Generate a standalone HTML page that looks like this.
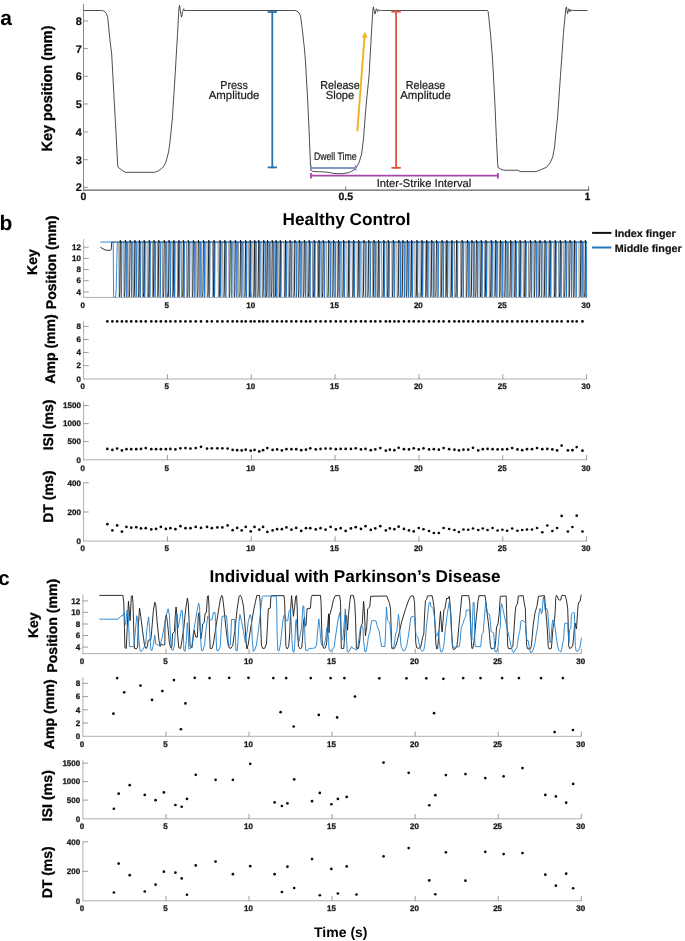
<!DOCTYPE html>
<html><head><meta charset="utf-8"><title>Figure</title>
<style>
html,body{margin:0;padding:0;background:#fff;}
body{width:685px;height:941px;overflow:hidden;font-family:"Liberation Sans",sans-serif;}
svg{display:block;font-family:"Liberation Sans",sans-serif;will-change:transform;text-rendering:geometricPrecision;}
</style></head><body>
<svg width="685" height="941" viewBox="0 0 685 941" font-family="Liberation Sans, sans-serif">
<rect width="685" height="941" fill="#fff"/>
<text x="0.30" y="25.00" font-size="21" text-anchor="start" font-weight="bold" fill="#000" >a</text>
<text transform="translate(52.00,88.50) rotate(-90)" font-size="14.8" text-anchor="middle" font-weight="bold" fill="#000" stroke="#000" stroke-width="0.3" textLength="126" lengthAdjust="spacingAndGlyphs">Key position (mm)</text>
<line x1="83.50" y1="4.00" x2="83.50" y2="190.40" stroke="#7d7d7d" stroke-width="0.9" />
<line x1="83.10" y1="190.00" x2="589.20" y2="190.00" stroke="#606060" stroke-width="1.25" />
<line x1="83.50" y1="21.00" x2="87.90" y2="21.00" stroke="#7a7a7a" stroke-width="0.8" />
<text x="81.80" y="24.95" font-size="11" text-anchor="end" font-weight="bold" fill="#111" stroke="#111" stroke-width="0.2">8</text>
<line x1="83.50" y1="48.60" x2="87.90" y2="48.60" stroke="#7a7a7a" stroke-width="0.8" />
<text x="81.80" y="52.55" font-size="11" text-anchor="end" font-weight="bold" fill="#111" stroke="#111" stroke-width="0.2">7</text>
<line x1="83.50" y1="76.30" x2="87.90" y2="76.30" stroke="#7a7a7a" stroke-width="0.8" />
<text x="81.80" y="80.25" font-size="11" text-anchor="end" font-weight="bold" fill="#111" stroke="#111" stroke-width="0.2">6</text>
<line x1="83.50" y1="104.00" x2="87.90" y2="104.00" stroke="#7a7a7a" stroke-width="0.8" />
<text x="81.80" y="107.95" font-size="11" text-anchor="end" font-weight="bold" fill="#111" stroke="#111" stroke-width="0.2">5</text>
<line x1="83.50" y1="132.00" x2="87.90" y2="132.00" stroke="#7a7a7a" stroke-width="0.8" />
<text x="81.80" y="135.95" font-size="11" text-anchor="end" font-weight="bold" fill="#111" stroke="#111" stroke-width="0.2">4</text>
<line x1="83.50" y1="159.70" x2="87.90" y2="159.70" stroke="#7a7a7a" stroke-width="0.8" />
<text x="81.80" y="163.65" font-size="11" text-anchor="end" font-weight="bold" fill="#111" stroke="#111" stroke-width="0.2">3</text>
<line x1="83.50" y1="187.40" x2="87.90" y2="187.40" stroke="#7a7a7a" stroke-width="0.8" />
<text x="81.80" y="191.35" font-size="11" text-anchor="end" font-weight="bold" fill="#111" stroke="#111" stroke-width="0.2">2</text>
<text x="83.50" y="200.20" font-size="10.5" text-anchor="middle" font-weight="bold" fill="#111" stroke="#111" stroke-width="0.25">0</text>
<text x="345.70" y="200.20" font-size="10.5" text-anchor="middle" font-weight="bold" fill="#111" stroke="#111" stroke-width="0.25">0.5</text>
<text x="587.50" y="200.20" font-size="10.5" text-anchor="middle" font-weight="bold" fill="#111" stroke="#111" stroke-width="0.25">1</text>
<line x1="345.70" y1="190.00" x2="345.70" y2="186.20" stroke="#555" stroke-width="0.8" />
<line x1="588.60" y1="190.00" x2="588.60" y2="186.20" stroke="#555" stroke-width="0.8" />
<polyline points="83.60,10.50 101.50,10.50 103.50,10.90 105.00,11.80 106.40,13.60 107.70,17.50 108.60,26.30 109.90,39.40 111.70,54.30 113.00,78.00 114.20,100.40 116.00,132.60 117.30,158.00 117.80,166.30 118.40,167.60 120.50,169.00 123.00,171.00 125.50,172.30 154.40,172.30 157.50,171.30 160.70,169.30 162.50,167.80 164.50,165.00 165.90,162.00 167.20,157.50 168.60,151.70 169.80,143.50 170.90,133.00 172.40,118.00 175.10,75.30 177.60,32.60 178.90,9.00 179.50,5.30 180.30,10.50 181.50,17.10 182.70,11.50 183.70,8.80 184.60,10.70 186.00,10.50 295.30,10.50 298.00,11.80 299.70,14.00 300.80,17.50 301.70,24.50 302.90,35.00 304.10,45.50 305.40,60.00 306.50,80.00 307.70,100.40 309.40,137.70 310.50,165.00 310.90,170.30 312.50,171.20 315.10,171.60 325.10,172.00 329.00,172.40 332.70,173.30 337.00,173.70 342.70,173.60 347.00,173.00 350.30,172.00 355.30,169.00 359.00,162.80 361.60,154.00 363.60,137.70 365.30,115.00 366.60,100.00 369.10,75.30 371.60,30.10 372.90,9.50 373.40,6.80 374.10,10.50 375.00,14.00 376.30,8.80 377.60,11.40 378.50,9.60 379.40,10.80 380.40,10.40 381.60,10.50 487.50,10.50 488.10,11.40 488.80,17.50 490.60,35.00 492.60,60.00 494.20,90.00 495.20,110.00 496.30,136.30 497.60,162.50 498.00,167.40 500.20,168.80 503.70,170.20 518.60,170.30 519.50,171.60 536.10,171.60 541.40,169.50 546.70,167.20 550.20,162.80 552.80,156.70 554.60,147.00 555.70,135.00 557.50,118.00 560.50,75.30 563.50,32.60 565.70,9.50 566.40,6.90 567.00,10.50 567.60,13.60 568.70,8.80 569.80,11.80 570.80,9.50 571.70,10.90 572.60,10.30 575.00,10.50 587.60,10.50" fill="none" stroke="#262626" stroke-width="0.82" stroke-linejoin="miter" stroke-linecap="butt" />
<line x1="272.30" y1="11.20" x2="272.30" y2="168.20" stroke="#2571b0" stroke-width="1.8" />
<line x1="267.60" y1="12.00" x2="277.00" y2="12.00" stroke="#2571b0" stroke-width="1.8" />
<line x1="267.60" y1="167.40" x2="277.00" y2="167.40" stroke="#2571b0" stroke-width="1.8" />
<line x1="396.10" y1="10.70" x2="396.10" y2="168.70" stroke="#dc5540" stroke-width="1.8" />
<line x1="391.40" y1="11.60" x2="400.80" y2="11.60" stroke="#dc5540" stroke-width="1.9" />
<line x1="391.40" y1="167.80" x2="400.80" y2="167.80" stroke="#dc5540" stroke-width="1.8" />
<line x1="357.30" y1="131.40" x2="364.60" y2="36.00" stroke="#f4b11f" stroke-width="1.9" />
<polygon points="365.0,31.6 362.0,37.4 367.4,37.9" fill="#f4b11f"/>
<line x1="310.80" y1="168.00" x2="355.80" y2="168.00" stroke="#8398c1" stroke-width="1.9" />
<line x1="311.10" y1="165.20" x2="311.10" y2="170.60" stroke="#8398c1" stroke-width="1.7" />
<line x1="355.50" y1="165.20" x2="355.50" y2="170.60" stroke="#8398c1" stroke-width="1.7" />
<line x1="310.60" y1="175.50" x2="498.20" y2="175.50" stroke="#a846a9" stroke-width="1.75" />
<line x1="311.00" y1="172.90" x2="311.00" y2="178.40" stroke="#a846a9" stroke-width="1.8" />
<line x1="497.90" y1="172.90" x2="497.90" y2="178.40" stroke="#a846a9" stroke-width="1.8" />
<text x="234.10" y="89.40" font-size="11.5" text-anchor="middle" font-weight="normal" fill="#1c1c1c" stroke="#1c1c1c" stroke-width="0.22" textLength="27.5" lengthAdjust="spacingAndGlyphs">Press</text>
<text x="234.10" y="98.90" font-size="11.5" text-anchor="middle" font-weight="normal" fill="#1c1c1c" stroke="#1c1c1c" stroke-width="0.22" textLength="50.7" lengthAdjust="spacingAndGlyphs">Amplitude</text>
<text x="340.00" y="89.40" font-size="11.5" text-anchor="middle" font-weight="normal" fill="#1c1c1c" stroke="#1c1c1c" stroke-width="0.22" textLength="39.5" lengthAdjust="spacingAndGlyphs">Release</text>
<text x="340.00" y="99.20" font-size="11.5" text-anchor="middle" font-weight="normal" fill="#1c1c1c" stroke="#1c1c1c" stroke-width="0.22" textLength="28.5" lengthAdjust="spacingAndGlyphs">Slope</text>
<text x="425.60" y="88.90" font-size="11.5" text-anchor="middle" font-weight="normal" fill="#1c1c1c" stroke="#1c1c1c" stroke-width="0.22" textLength="39.5" lengthAdjust="spacingAndGlyphs">Release</text>
<text x="425.60" y="98.50" font-size="11.5" text-anchor="middle" font-weight="normal" fill="#1c1c1c" stroke="#1c1c1c" stroke-width="0.22" textLength="50.7" lengthAdjust="spacingAndGlyphs">Amplitude</text>
<text x="335.20" y="159.80" font-size="10.8" text-anchor="middle" font-weight="normal" fill="#1c1c1c" stroke="#1c1c1c" stroke-width="0.22" textLength="42.6" lengthAdjust="spacingAndGlyphs">Dwell Time</text>
<text x="424.00" y="186.60" font-size="11.3" text-anchor="middle" font-weight="normal" fill="#1c1c1c" stroke="#1c1c1c" stroke-width="0.22" textLength="94.7" lengthAdjust="spacingAndGlyphs">Inter-Strike Interval</text>
<text x="-0.40" y="230.30" font-size="21" text-anchor="start" font-weight="bold" fill="#000" >b</text>
<text x="346.60" y="225.20" font-size="17" text-anchor="middle" font-weight="bold" fill="#000" textLength="128" lengthAdjust="spacingAndGlyphs">Healthy Control</text>
<text transform="translate(37.20,262.10) rotate(-90)" font-size="14" text-anchor="middle" font-weight="bold" fill="#000" stroke="#000" stroke-width="0.3" >Key</text>
<text transform="translate(56.00,262.40) rotate(-90)" font-size="14" text-anchor="middle" font-weight="bold" fill="#000" stroke="#000" stroke-width="0.3" textLength="93.5" lengthAdjust="spacingAndGlyphs">Position (mm)</text>
<line x1="83.60" y1="238.90" x2="83.60" y2="297.80" stroke="#a6a6a6" stroke-width="0.9" />
<line x1="83.20" y1="297.40" x2="587.00" y2="297.40" stroke="#a6a6a6" stroke-width="0.9" />
<line x1="83.60" y1="247.20" x2="88.70" y2="247.20" stroke="#5a5a5a" stroke-width="0.6" />
<text x="80.90" y="249.95" font-size="8" text-anchor="end" font-weight="bold" fill="#1a1a1a" stroke="#1a1a1a" stroke-width="0.3">12</text>
<line x1="83.60" y1="258.30" x2="88.70" y2="258.30" stroke="#5a5a5a" stroke-width="0.6" />
<text x="80.90" y="261.05" font-size="8" text-anchor="end" font-weight="bold" fill="#1a1a1a" stroke="#1a1a1a" stroke-width="0.3">10</text>
<line x1="83.60" y1="269.50" x2="88.70" y2="269.50" stroke="#5a5a5a" stroke-width="0.6" />
<text x="80.90" y="272.25" font-size="8" text-anchor="end" font-weight="bold" fill="#1a1a1a" stroke="#1a1a1a" stroke-width="0.3">8</text>
<line x1="83.60" y1="280.70" x2="88.70" y2="280.70" stroke="#5a5a5a" stroke-width="0.6" />
<text x="80.90" y="283.45" font-size="8" text-anchor="end" font-weight="bold" fill="#1a1a1a" stroke="#1a1a1a" stroke-width="0.3">6</text>
<line x1="83.60" y1="291.90" x2="88.70" y2="291.90" stroke="#5a5a5a" stroke-width="0.6" />
<text x="80.90" y="294.65" font-size="8" text-anchor="end" font-weight="bold" fill="#1a1a1a" stroke="#1a1a1a" stroke-width="0.3">4</text>
<text x="82.70" y="308.10" font-size="8" text-anchor="middle" font-weight="bold" fill="#1a1a1a" stroke="#1a1a1a" stroke-width="0.3">0</text>
<line x1="167.43" y1="297.40" x2="167.43" y2="292.60" stroke="#5a5a5a" stroke-width="0.6" />
<text x="166.83" y="308.10" font-size="8" text-anchor="middle" font-weight="bold" fill="#1a1a1a" stroke="#1a1a1a" stroke-width="0.3">5</text>
<line x1="251.27" y1="297.40" x2="251.27" y2="292.60" stroke="#5a5a5a" stroke-width="0.6" />
<text x="250.67" y="308.10" font-size="8" text-anchor="middle" font-weight="bold" fill="#1a1a1a" stroke="#1a1a1a" stroke-width="0.3">10</text>
<line x1="335.10" y1="297.40" x2="335.10" y2="292.60" stroke="#5a5a5a" stroke-width="0.6" />
<text x="334.50" y="308.10" font-size="8" text-anchor="middle" font-weight="bold" fill="#1a1a1a" stroke="#1a1a1a" stroke-width="0.3">15</text>
<line x1="418.93" y1="297.40" x2="418.93" y2="292.60" stroke="#5a5a5a" stroke-width="0.6" />
<text x="418.33" y="308.10" font-size="8" text-anchor="middle" font-weight="bold" fill="#1a1a1a" stroke="#1a1a1a" stroke-width="0.3">20</text>
<line x1="502.77" y1="297.40" x2="502.77" y2="292.60" stroke="#5a5a5a" stroke-width="0.6" />
<text x="502.17" y="308.10" font-size="8" text-anchor="middle" font-weight="bold" fill="#1a1a1a" stroke="#1a1a1a" stroke-width="0.3">25</text>
<line x1="586.60" y1="297.40" x2="586.60" y2="292.60" stroke="#5a5a5a" stroke-width="0.6" />
<text x="586.00" y="308.10" font-size="8" text-anchor="middle" font-weight="bold" fill="#1a1a1a" stroke="#1a1a1a" stroke-width="0.3">30</text>
<clipPath id="cb"><rect x="83" y="236" width="503.9" height="61.4"/></clipPath>
<g clip-path="url(#cb)">
<polyline points="100.40,247.20 103.00,248.80 105.50,250.00 107.00,250.30 110.60,250.30 111.30,249.00 111.70,242.06 116.30,242.06" fill="none" stroke="#151515" stroke-width="0.85" stroke-linejoin="round" stroke-linecap="butt" />
<polyline points="100.40,242.06 113.20,242.06 113.60,294.82 113.70,297.42 115.70,297.42 116.20,288.82 117.30,242.06 586.60,242.06" fill="none" stroke="#1b72c4" stroke-width="0.85" stroke-linejoin="round" stroke-linecap="butt" />
<path d="M116.3,242.06 L586.6,242.06" stroke="#151515" stroke-width="0.5" fill="none" opacity="0.6"/>
<path d="M118.84,242.06 L119.14,296.82 L119.54,296.82 M123.72,242.06 L124.02,296.82 L124.42,296.82 M128.01,242.06 L128.31,296.82 L128.71,296.82 M133.05,242.06 L133.35,296.82 L133.75,296.82 M137.98,242.06 L138.28,296.82 L138.68,296.82 M142.38,242.06 L142.68,296.82 L143.08,296.82 M147.08,242.06 L147.38,296.82 L147.78,296.82 M152.31,242.06 L152.61,296.82 L153.01,296.82 M157.28,242.06 L157.58,296.82 L157.98,296.82 M162.30,242.06 L162.60,296.82 L163.00,296.82 M167.00,242.06 L167.30,296.82 L167.70,296.82 M172.30,242.06 L172.60,296.82 L173.00,296.82 M177.25,242.06 L177.55,296.82 L177.95,296.82 M181.26,242.06 L181.56,296.82 L181.96,296.82 M186.48,242.06 L186.78,296.82 L187.18,296.82 M191.96,242.06 L192.26,296.82 L192.66,296.82 M196.67,242.06 L196.97,296.82 L197.37,296.82 M201.31,242.06 L201.61,296.82 L202.01,296.82 M207.00,242.06 L207.30,296.82 L207.70,296.82 M212.54,242.06 L212.84,296.82 L213.24,296.82 M218.08,242.06 L218.38,296.82 L218.78,296.82 M222.71,242.06 L223.01,296.82 L223.41,296.82 M228.76,242.06 L229.06,296.82 L229.46,296.82 M233.79,242.06 L234.09,296.82 L234.49,296.82 M238.54,242.06 L238.84,296.82 L239.24,296.82 M243.68,242.06 L243.98,296.82 L244.38,296.82 M248.69,242.06 L248.99,296.82 L249.39,296.82 M252.96,242.06 L253.26,296.82 L253.66,296.82 M256.55,242.06 L256.85,296.82 L257.25,296.82 M261.94,242.06 L262.24,296.82 L262.64,296.82 M266.06,242.06 L266.36,296.82 L266.76,296.82 M270.38,242.06 L270.68,296.82 L271.08,296.82 M273.93,242.06 L274.23,296.82 L274.63,296.82 M278.70,242.06 L279.00,296.82 L279.40,296.82 M284.06,242.06 L284.36,296.82 L284.76,296.82 M288.06,242.06 L288.36,296.82 L288.76,296.82 M292.88,242.06 L293.18,296.82 L293.58,296.82 M297.91,242.06 L298.21,296.82 L298.61,296.82 M302.75,242.06 L303.05,296.82 L303.45,296.82 M307.06,242.06 L307.36,296.82 L307.76,296.82 M312.38,242.06 L312.68,296.82 L313.08,296.82 M317.54,242.06 L317.84,296.82 L318.24,296.82 M321.41,242.06 L321.71,296.82 L322.11,296.82 M326.64,242.06 L326.94,296.82 L327.34,296.82 M331.89,242.06 L332.19,296.82 L332.59,296.82 M337.08,242.06 L337.38,296.82 L337.78,296.82 M341.58,242.06 L341.88,296.82 L342.28,296.82 M346.82,242.06 L347.12,296.82 L347.52,296.82 M352.12,242.06 L352.42,296.82 L352.82,296.82 M357.04,242.06 L357.34,296.82 L357.74,296.82 M361.81,242.06 L362.11,296.82 L362.51,296.82 M366.81,242.06 L367.11,296.82 L367.51,296.82 M372.52,242.06 L372.82,296.82 L373.22,296.82 M376.70,242.06 L377.00,296.82 L377.40,296.82 M381.62,242.06 L381.92,296.82 L382.32,296.82 M386.58,242.06 L386.88,296.82 L387.28,296.82 M391.84,242.06 L392.14,296.82 L392.54,296.82 M396.87,242.06 L397.17,296.82 L397.57,296.82 M400.77,242.06 L401.07,296.82 L401.47,296.82 M405.82,242.06 L406.12,296.82 L406.52,296.82 M410.06,242.06 L410.36,296.82 L410.76,296.82 M414.82,242.06 L415.12,296.82 L415.52,296.82 M420.00,242.06 L420.30,296.82 L420.70,296.82 M425.24,242.06 L425.54,296.82 L425.94,296.82 M430.00,242.06 L430.30,296.82 L430.70,296.82 M434.37,242.06 L434.67,296.82 L435.07,296.82 M440.28,242.06 L440.58,296.82 L440.98,296.82 M445.35,242.06 L445.65,296.82 L446.05,296.82 M449.91,242.06 L450.21,296.82 L450.61,296.82 M454.50,242.06 L454.80,296.82 L455.20,296.82 M460.53,242.06 L460.83,296.82 L461.23,296.82 M465.86,242.06 L466.16,296.82 L466.56,296.82 M469.85,242.06 L470.15,296.82 L470.55,296.82 M474.45,242.06 L474.75,296.82 L475.15,296.82 M479.73,242.06 L480.03,296.82 L480.43,296.82 M484.29,242.06 L484.59,296.82 L484.99,296.82 M489.11,242.06 L489.41,296.82 L489.81,296.82 M493.96,242.06 L494.26,296.82 L494.66,296.82 M499.10,242.06 L499.40,296.82 L499.80,296.82 M503.70,242.06 L504.00,296.82 L504.40,296.82 M508.46,242.06 L508.76,296.82 L509.16,296.82 M513.72,242.06 L514.02,296.82 L514.42,296.82 M518.62,242.06 L518.92,296.82 L519.32,296.82 M523.12,242.06 L523.42,296.82 L523.82,296.82 M528.40,242.06 L528.70,296.82 L529.10,296.82 M533.69,242.06 L533.99,296.82 L534.39,296.82 M538.32,242.06 L538.62,296.82 L539.02,296.82 M542.86,242.06 L543.16,296.82 L543.56,296.82 M548.14,242.06 L548.44,296.82 L548.84,296.82 M553.83,242.06 L554.13,296.82 L554.53,296.82 M558.49,242.06 L558.79,296.82 L559.19,296.82 M563.19,242.06 L563.49,296.82 L563.89,296.82 M568.41,242.06 L568.71,296.82 L569.11,296.82 M573.14,242.06 L573.44,296.82 L573.84,296.82 M578.91,242.06 L579.21,296.82 L579.61,296.82 M583.35,242.06 L583.65,296.82 L584.05,296.82" stroke="#1e1e1e" stroke-width="0.5" fill="none" stroke-linejoin="miter"/>
<path d="M121.10,242.06 L121.30,297.42 L121.55,292.82 L121.95,242.06 M126.51,242.06 L126.71,297.42 L126.96,292.82 L127.36,242.06 M131.38,242.06 L131.58,297.42 L131.83,292.82 L132.23,242.06 M135.88,242.06 L136.08,297.42 L136.33,292.82 L136.73,242.06 M139.96,242.06 L140.16,297.42 L140.41,292.82 L140.81,242.06 M144.47,242.06 L144.67,297.42 L144.92,292.82 L145.32,242.06 M149.59,242.06 L149.79,297.42 L150.04,292.82 L150.44,242.06 M154.76,242.06 L154.96,297.42 L155.21,292.82 L155.61,242.06 M159.91,242.06 L160.11,297.42 L160.36,292.82 L160.76,242.06 M165.53,242.06 L165.73,297.42 L165.98,292.82 L166.38,242.06 M170.02,242.06 L170.22,297.42 L170.47,292.82 L170.87,242.06 M174.35,242.06 L174.55,297.42 L174.80,292.82 L175.20,242.06 M179.11,242.06 L179.31,297.42 L179.56,292.82 L179.96,242.06 M183.74,242.06 L183.94,297.42 L184.19,292.82 L184.59,242.06 M189.16,242.06 L189.36,297.42 L189.61,292.82 L190.01,242.06 M194.57,242.06 L194.77,297.42 L195.02,292.82 L195.42,242.06 M199.67,242.06 L199.87,297.42 L200.12,292.82 L200.52,242.06 M204.41,242.06 L204.61,297.42 L204.86,292.82 L205.26,242.06 M209.25,242.06 L209.45,297.42 L209.70,292.82 L210.10,242.06 M214.27,242.06 L214.47,297.42 L214.72,292.82 L215.12,242.06 M220.41,242.06 L220.61,297.42 L220.86,292.82 L221.26,242.06 M225.58,242.06 L225.78,297.42 L226.03,292.82 L226.43,242.06 M231.49,242.06 L231.69,297.42 L231.94,292.82 L232.34,242.06 M236.58,242.06 L236.78,297.42 L237.03,292.82 L237.43,242.06 M241.57,242.06 L241.77,297.42 L242.02,292.82 L242.42,242.06 M246.15,242.06 L246.35,297.42 L246.60,292.82 L247.00,242.06 M250.42,242.06 L250.62,297.42 L250.87,292.82 L251.27,242.06 M255.07,242.06 L255.27,297.42 L255.52,292.82 L255.92,242.06 M259.49,242.06 L259.69,297.42 L259.94,292.82 L260.34,242.06 M264.89,242.06 L265.09,297.42 L265.34,292.82 L265.74,242.06 M268.74,242.06 L268.94,297.42 L269.19,292.82 L269.59,242.06 M273.22,242.06 L273.42,297.42 L273.67,292.82 L274.07,242.06 M276.55,242.06 L276.75,297.42 L277.00,292.82 L277.40,242.06 M280.57,242.06 L280.77,297.42 L281.02,292.82 L281.42,242.06 M285.98,242.06 L286.18,297.42 L286.43,292.82 L286.83,242.06 M290.90,242.06 L291.10,297.42 L291.35,292.82 L291.75,242.06 M296.05,242.06 L296.25,297.42 L296.50,292.82 L296.90,242.06 M300.63,242.06 L300.83,297.42 L301.08,292.82 L301.48,242.06 M305.35,242.06 L305.55,297.42 L305.80,292.82 L306.20,242.06 M309.69,242.06 L309.89,297.42 L310.14,292.82 L310.54,242.06 M314.47,242.06 L314.67,297.42 L314.92,292.82 L315.32,242.06 M319.38,242.06 L319.58,297.42 L319.83,292.82 L320.23,242.06 M324.06,242.06 L324.26,297.42 L324.51,292.82 L324.91,242.06 M329.95,242.06 L330.15,297.42 L330.40,292.82 L330.80,242.06 M334.77,242.06 L334.97,297.42 L335.22,292.82 L335.62,242.06 M339.49,242.06 L339.69,297.42 L339.94,292.82 L340.34,242.06 M344.08,242.06 L344.28,297.42 L344.53,292.82 L344.93,242.06 M349.12,242.06 L349.32,297.42 L349.57,292.82 L349.97,242.06 M354.04,242.06 L354.24,297.42 L354.49,292.82 L354.89,242.06 M359.47,242.06 L359.67,297.42 L359.92,292.82 L360.32,242.06 M365.11,242.06 L365.31,297.42 L365.56,292.82 L365.96,242.06 M369.92,242.06 L370.12,297.42 L370.37,292.82 L370.77,242.06 M374.89,242.06 L375.09,297.42 L375.34,292.82 L375.74,242.06 M378.98,242.06 L379.18,297.42 L379.43,292.82 L379.83,242.06 M384.02,242.06 L384.22,297.42 L384.47,292.82 L384.87,242.06 M388.69,242.06 L388.89,297.42 L389.14,292.82 L389.54,242.06 M394.13,242.06 L394.33,297.42 L394.58,292.82 L394.98,242.06 M400.02,242.06 L400.22,297.42 L400.47,292.82 L400.87,242.06 M404.07,242.06 L404.27,297.42 L404.52,292.82 L404.92,242.06 M408.27,242.06 L408.47,297.42 L408.72,292.82 L409.12,242.06 M412.11,242.06 L412.31,297.42 L412.56,292.82 L412.96,242.06 M417.17,242.06 L417.37,297.42 L417.62,292.82 L418.02,242.06 M422.35,242.06 L422.55,297.42 L422.80,292.82 L423.20,242.06 M427.53,242.06 L427.73,297.42 L427.98,292.82 L428.38,242.06 M432.93,242.06 L433.13,297.42 L433.38,292.82 L433.78,242.06 M437.73,242.06 L437.93,297.42 L438.18,292.82 L438.58,242.06 M442.94,242.06 L443.14,297.42 L443.39,292.82 L443.79,242.06 M447.28,242.06 L447.48,297.42 L447.73,292.82 L448.13,242.06 M452.09,242.06 L452.29,297.42 L452.54,292.82 L452.94,242.06 M457.02,242.06 L457.22,297.42 L457.47,292.82 L457.87,242.06 M462.96,242.06 L463.16,297.42 L463.41,292.82 L463.81,242.06 M468.59,242.06 L468.79,297.42 L469.04,292.82 L469.44,242.06 M473.13,242.06 L473.33,297.42 L473.58,292.82 L473.98,242.06 M477.33,242.06 L477.53,297.42 L477.78,292.82 L478.18,242.06 M481.67,242.06 L481.87,297.42 L482.12,292.82 L482.52,242.06 M486.23,242.06 L486.43,297.42 L486.68,292.82 L487.08,242.06 M491.68,242.06 L491.88,297.42 L492.13,292.82 L492.53,242.06 M496.62,242.06 L496.82,297.42 L497.07,292.82 L497.47,242.06 M501.74,242.06 L501.94,297.42 L502.19,292.82 L502.59,242.06 M506.78,242.06 L506.98,297.42 L507.23,292.82 L507.63,242.06 M511.47,242.06 L511.67,297.42 L511.92,292.82 L512.32,242.06 M515.81,242.06 L516.01,297.42 L516.26,292.82 L516.66,242.06 M520.38,242.06 L520.58,297.42 L520.83,292.82 L521.23,242.06 M525.58,242.06 L525.78,297.42 L526.03,292.82 L526.43,242.06 M531.28,242.06 L531.48,297.42 L531.73,292.82 L532.13,242.06 M536.39,242.06 L536.59,297.42 L536.84,292.82 L537.24,242.06 M541.17,242.06 L541.37,297.42 L541.62,292.82 L542.02,242.06 M545.86,242.06 L546.06,297.42 L546.31,292.82 L546.71,242.06 M550.46,242.06 L550.66,297.42 L550.91,292.82 L551.31,242.06 M555.54,242.06 L555.74,297.42 L555.99,292.82 L556.39,242.06 M560.74,242.06 L560.94,297.42 L561.19,292.82 L561.59,242.06 M566.19,242.06 L566.39,297.42 L566.64,292.82 L567.04,242.06 M571.30,242.06 L571.50,297.42 L571.75,292.82 L572.15,242.06 M575.82,242.06 L576.02,297.42 L576.27,292.82 L576.67,242.06 M581.76,242.06 L581.96,297.42 L582.21,292.82 L582.61,242.06 M585.85,242.06 L586.05,297.42 L586.30,292.82 L586.70,242.06" stroke="#1a72c9" stroke-width="0.9" fill="none" stroke-linejoin="miter"/>
<path d="M119.55,296.82 L119.85,291.82 L120.30,240.16 L120.65,242.96 L121.10,241.56 L121.50,242.06 M124.57,296.82 L124.87,291.82 L125.32,240.16 L125.67,242.96 L126.12,241.56 L126.52,242.06 M129.34,296.82 L129.64,291.82 L130.09,240.16 L130.44,242.96 L130.89,241.56 L131.29,242.06 M134.11,296.82 L134.41,291.82 L134.86,240.16 L135.21,242.96 L135.66,241.56 L136.06,242.06 M138.63,296.82 L138.93,291.82 L139.38,240.16 L139.73,242.96 L140.18,241.56 L140.58,242.06 M143.40,296.82 L143.70,291.82 L144.15,240.16 L144.50,242.96 L144.95,241.56 L145.35,242.06 M148.43,296.82 L148.73,291.82 L149.18,240.16 L149.53,242.96 L149.98,241.56 L150.38,242.06 M153.20,296.82 L153.50,291.82 L153.95,240.16 L154.30,242.96 L154.75,241.56 L155.15,242.06 M157.97,296.82 L158.27,291.82 L158.72,240.16 L159.07,242.96 L159.52,241.56 L159.92,242.06 M163.49,296.82 L163.79,291.82 L164.24,240.16 L164.59,242.96 L165.04,241.56 L165.44,242.06 M168.26,296.82 L168.56,291.82 L169.01,240.16 L169.36,242.96 L169.81,241.56 L170.21,242.06 M173.03,296.82 L173.33,291.82 L173.78,240.16 L174.13,242.96 L174.58,241.56 L174.98,242.06 M178.06,296.82 L178.36,291.82 L178.81,240.16 L179.16,242.96 L179.61,241.56 L180.01,242.06 M182.57,296.82 L182.87,291.82 L183.32,240.16 L183.67,242.96 L184.12,241.56 L184.52,242.06 M187.60,296.82 L187.90,291.82 L188.35,240.16 L188.70,242.96 L189.15,241.56 L189.55,242.06 M192.62,296.82 L192.92,291.82 L193.37,240.16 L193.72,242.96 L194.17,241.56 L194.57,242.06 M197.64,296.82 L197.94,291.82 L198.39,240.16 L198.74,242.96 L199.19,241.56 L199.59,242.06 M202.66,296.82 L202.96,291.82 L203.41,240.16 L203.76,242.96 L204.21,241.56 L204.61,242.06 M207.94,296.82 L208.24,291.82 L208.69,240.16 L209.04,242.96 L209.49,241.56 L209.89,242.06 M213.21,296.82 L213.51,291.82 L213.96,240.16 L214.31,242.96 L214.76,241.56 L215.16,242.06 M219.23,296.82 L219.53,291.82 L219.98,240.16 L220.33,242.96 L220.78,241.56 L221.18,242.06 M224.01,296.82 L224.31,291.82 L224.76,240.16 L225.11,242.96 L225.56,241.56 L225.96,242.06 M229.53,296.82 L229.83,291.82 L230.28,240.16 L230.63,242.96 L231.08,241.56 L231.48,242.06 M234.55,296.82 L234.85,291.82 L235.30,240.16 L235.65,242.96 L236.10,241.56 L236.50,242.06 M239.82,296.82 L240.12,291.82 L240.57,240.16 L240.92,242.96 L241.37,241.56 L241.77,242.06 M244.85,296.82 L245.15,291.82 L245.60,240.16 L245.95,242.96 L246.40,241.56 L246.80,242.06 M249.37,296.82 L249.67,291.82 L250.12,240.16 L250.47,242.96 L250.92,241.56 L251.32,242.06 M253.89,296.82 L254.19,291.82 L254.64,240.16 L254.99,242.96 L255.44,241.56 L255.84,242.06 M257.90,296.82 L258.20,291.82 L258.65,240.16 L259.00,242.96 L259.45,241.56 L259.85,242.06 M262.93,296.82 L263.23,291.82 L263.68,240.16 L264.03,242.96 L264.48,241.56 L264.88,242.06 M266.71,296.82 L267.01,291.82 L267.46,240.16 L267.81,242.96 L268.26,241.56 L268.66,242.06 M271.48,296.82 L271.78,291.82 L272.23,240.16 L272.58,242.96 L273.03,241.56 L273.43,242.06 M275.25,296.82 L275.55,291.82 L276.00,240.16 L276.35,242.96 L276.80,241.56 L277.20,242.06 M279.52,296.82 L279.82,291.82 L280.27,240.16 L280.62,242.96 L281.07,241.56 L281.47,242.06 M284.79,296.82 L285.09,291.82 L285.54,240.16 L285.89,242.96 L286.34,241.56 L286.74,242.06 M289.31,296.82 L289.61,291.82 L290.06,240.16 L290.41,242.96 L290.86,241.56 L291.26,242.06 M294.08,296.82 L294.38,291.82 L294.83,240.16 L295.18,242.96 L295.63,241.56 L296.03,242.06 M298.60,296.82 L298.90,291.82 L299.35,240.16 L299.70,242.96 L300.15,241.56 L300.55,242.06 M303.62,296.82 L303.92,291.82 L304.37,240.16 L304.72,242.96 L305.17,241.56 L305.57,242.06 M308.40,296.82 L308.70,291.82 L309.15,240.16 L309.50,242.96 L309.95,241.56 L310.35,242.06 M313.42,296.82 L313.72,291.82 L314.17,240.16 L314.52,242.96 L314.97,241.56 L315.37,242.06 M318.19,296.82 L318.49,291.82 L318.94,240.16 L319.29,242.96 L319.74,241.56 L320.14,242.06 M322.46,296.82 L322.76,291.82 L323.21,240.16 L323.56,242.96 L324.01,241.56 L324.41,242.06 M327.98,296.82 L328.28,291.82 L328.73,240.16 L329.08,242.96 L329.53,241.56 L329.93,242.06 M332.75,296.82 L333.05,291.82 L333.50,240.16 L333.85,242.96 L334.30,241.56 L334.70,242.06 M337.77,296.82 L338.07,291.82 L338.52,240.16 L338.87,242.96 L339.32,241.56 L339.72,242.06 M342.80,296.82 L343.10,291.82 L343.55,240.16 L343.90,242.96 L344.35,241.56 L344.75,242.06 M348.07,296.82 L348.37,291.82 L348.82,240.16 L349.17,242.96 L349.62,241.56 L350.02,242.06 M352.84,296.82 L353.14,291.82 L353.59,240.16 L353.94,242.96 L354.39,241.56 L354.79,242.06 M357.86,296.82 L358.16,291.82 L358.61,240.16 L358.96,242.96 L359.41,241.56 L359.81,242.06 M363.13,296.82 L363.43,291.82 L363.88,240.16 L364.23,242.96 L364.68,241.56 L365.08,242.06 M367.90,296.82 L368.20,291.82 L368.65,240.16 L369.00,242.96 L369.45,241.56 L369.85,242.06 M373.18,296.82 L373.48,291.82 L373.93,240.16 L374.28,242.96 L374.73,241.56 L375.13,242.06 M377.70,296.82 L378.00,291.82 L378.45,240.16 L378.80,242.96 L379.25,241.56 L379.65,242.06 M382.97,296.82 L383.27,291.82 L383.72,240.16 L384.07,242.96 L384.52,241.56 L384.92,242.06 M387.49,296.82 L387.79,291.82 L388.24,240.16 L388.59,242.96 L389.04,241.56 L389.44,242.06 M392.51,296.82 L392.81,291.82 L393.26,240.16 L393.61,242.96 L394.06,241.56 L394.46,242.06 M398.04,296.82 L398.34,291.82 L398.79,240.16 L399.14,242.96 L399.59,241.56 L399.99,242.06 M402.05,296.82 L402.35,291.82 L402.80,240.16 L403.15,242.96 L403.60,241.56 L404.00,242.06 M406.57,296.82 L406.87,291.82 L407.32,240.16 L407.67,242.96 L408.12,241.56 L408.52,242.06 M410.84,296.82 L411.14,291.82 L411.59,240.16 L411.94,242.96 L412.39,241.56 L412.79,242.06 M416.11,296.82 L416.41,291.82 L416.86,240.16 L417.21,242.96 L417.66,241.56 L418.06,242.06 M421.14,296.82 L421.44,291.82 L421.89,240.16 L422.24,242.96 L422.69,241.56 L423.09,242.06 M425.91,296.82 L426.21,291.82 L426.66,240.16 L427.01,242.96 L427.46,241.56 L427.86,242.06 M430.95,296.82 L431.25,291.82 L431.70,240.16 L432.05,242.96 L432.50,241.56 L432.90,242.06 M435.72,296.82 L436.02,291.82 L436.47,240.16 L436.82,242.96 L437.27,241.56 L437.67,242.06 M441.24,296.82 L441.54,291.82 L441.99,240.16 L442.34,242.96 L442.79,241.56 L443.19,242.06 M446.01,296.82 L446.31,291.82 L446.76,240.16 L447.11,242.96 L447.56,241.56 L447.96,242.06 M451.03,296.82 L451.33,291.82 L451.78,240.16 L452.13,242.96 L452.58,241.56 L452.98,242.06 M455.81,296.82 L456.11,291.82 L456.56,240.16 L456.91,242.96 L457.36,241.56 L457.76,242.06 M461.33,296.82 L461.63,291.82 L462.08,240.16 L462.43,242.96 L462.88,241.56 L463.28,242.06 M466.60,296.82 L466.90,291.82 L467.35,240.16 L467.70,242.96 L468.15,241.56 L468.55,242.06 M471.12,296.82 L471.42,291.82 L471.87,240.16 L472.22,242.96 L472.67,241.56 L473.07,242.06 M475.64,296.82 L475.94,291.82 L476.39,240.16 L476.74,242.96 L477.19,241.56 L477.59,242.06 M480.41,296.82 L480.71,291.82 L481.16,240.16 L481.51,242.96 L481.96,241.56 L482.36,242.06 M485.18,296.82 L485.48,291.82 L485.93,240.16 L486.28,242.96 L486.73,241.56 L487.13,242.06 M490.46,296.82 L490.76,291.82 L491.21,240.16 L491.56,242.96 L492.01,241.56 L492.41,242.06 M494.98,296.82 L495.28,291.82 L495.73,240.16 L496.08,242.96 L496.53,241.56 L496.93,242.06 M499.75,296.82 L500.05,291.82 L500.50,240.16 L500.85,242.96 L501.30,241.56 L501.70,242.06 M504.77,296.82 L505.07,291.82 L505.52,240.16 L505.87,242.96 L506.32,241.56 L506.72,242.06 M509.79,296.82 L510.09,291.82 L510.54,240.16 L510.89,242.96 L511.34,241.56 L511.74,242.06 M514.56,296.82 L514.86,291.82 L515.31,240.16 L515.66,242.96 L516.11,241.56 L516.51,242.06 M519.33,296.82 L519.63,291.82 L520.08,240.16 L520.43,242.96 L520.88,241.56 L521.28,242.06 M524.35,296.82 L524.65,291.82 L525.10,240.16 L525.45,242.96 L525.90,241.56 L526.30,242.06 M529.63,296.82 L529.93,291.82 L530.38,240.16 L530.73,242.96 L531.18,241.56 L531.58,242.06 M534.40,296.82 L534.70,291.82 L535.15,240.16 L535.50,242.96 L535.95,241.56 L536.35,242.06 M539.17,296.82 L539.47,291.82 L539.92,240.16 L540.27,242.96 L540.72,241.56 L541.12,242.06 M544.19,296.82 L544.49,291.82 L544.94,240.16 L545.29,242.96 L545.74,241.56 L546.14,242.06 M549.21,296.82 L549.51,291.82 L549.96,240.16 L550.31,242.96 L550.76,241.56 L551.16,242.06 M554.49,296.82 L554.79,291.82 L555.24,240.16 L555.59,242.96 L556.04,241.56 L556.44,242.06 M559.51,296.82 L559.81,291.82 L560.26,240.16 L560.61,242.96 L561.06,241.56 L561.46,242.06 M564.53,296.82 L564.83,291.82 L565.28,240.16 L565.63,242.96 L566.08,241.56 L566.48,242.06 M569.30,296.82 L569.60,291.82 L570.05,240.16 L570.40,242.96 L570.85,241.56 L571.25,242.06 M573.82,296.82 L574.12,291.82 L574.57,240.16 L574.92,242.96 L575.37,241.56 L575.77,242.06 M580.10,296.82 L580.40,291.82 L580.85,240.16 L581.20,242.96 L581.65,241.56 L582.05,242.06 M584.62,296.82 L584.92,291.82 L585.37,240.16 L585.72,242.96 L586.17,241.56 L586.57,242.06" stroke="#050505" stroke-width="0.85" fill="none" stroke-linejoin="miter"/>
<path d="M113,242.06 L586.6,242.06" stroke="#2a7cc9" stroke-width="0.7" fill="none" opacity="0.8"/>
</g>
<line x1="592.10" y1="232.90" x2="611.40" y2="232.90" stroke="#111" stroke-width="2.0" />
<line x1="592.10" y1="247.50" x2="611.40" y2="247.50" stroke="#1f78c4" stroke-width="2.0" />
<text x="614.70" y="236.50" font-size="10.5" text-anchor="start" font-weight="bold" fill="#111" stroke="#111" stroke-width="0.2" textLength="61" lengthAdjust="spacingAndGlyphs">Index finger</text>
<text x="614.70" y="251.50" font-size="10.5" text-anchor="start" font-weight="bold" fill="#111" stroke="#111" stroke-width="0.2" textLength="67" lengthAdjust="spacingAndGlyphs">Middle finger</text>
<text transform="translate(55.20,349.00) rotate(-90)" font-size="14" text-anchor="middle" font-weight="bold" fill="#000" stroke="#000" stroke-width="0.3" textLength="69.5" lengthAdjust="spacingAndGlyphs">Amp (mm)</text>
<line x1="83.60" y1="321.30" x2="83.60" y2="379.40" stroke="#a6a6a6" stroke-width="0.9" />
<line x1="83.20" y1="379.00" x2="587.00" y2="379.00" stroke="#a6a6a6" stroke-width="0.9" />
<line x1="83.60" y1="326.40" x2="88.70" y2="326.40" stroke="#5a5a5a" stroke-width="0.6" />
<text x="80.90" y="329.15" font-size="8" text-anchor="end" font-weight="bold" fill="#1a1a1a" stroke="#1a1a1a" stroke-width="0.3">8</text>
<line x1="83.60" y1="339.50" x2="88.70" y2="339.50" stroke="#5a5a5a" stroke-width="0.6" />
<text x="80.90" y="342.25" font-size="8" text-anchor="end" font-weight="bold" fill="#1a1a1a" stroke="#1a1a1a" stroke-width="0.3">6</text>
<line x1="83.60" y1="352.60" x2="88.70" y2="352.60" stroke="#5a5a5a" stroke-width="0.6" />
<text x="80.90" y="355.35" font-size="8" text-anchor="end" font-weight="bold" fill="#1a1a1a" stroke="#1a1a1a" stroke-width="0.3">4</text>
<line x1="83.60" y1="365.70" x2="88.70" y2="365.70" stroke="#5a5a5a" stroke-width="0.6" />
<text x="80.90" y="368.45" font-size="8" text-anchor="end" font-weight="bold" fill="#1a1a1a" stroke="#1a1a1a" stroke-width="0.3">2</text>
<text x="80.90" y="382.05" font-size="8" text-anchor="end" font-weight="bold" fill="#1a1a1a" stroke="#1a1a1a" stroke-width="0.3">0</text>
<text x="82.70" y="389.10" font-size="8" text-anchor="middle" font-weight="bold" fill="#1a1a1a" stroke="#1a1a1a" stroke-width="0.3">0</text>
<line x1="167.43" y1="379.00" x2="167.43" y2="374.20" stroke="#5a5a5a" stroke-width="0.6" />
<text x="166.83" y="389.10" font-size="8" text-anchor="middle" font-weight="bold" fill="#1a1a1a" stroke="#1a1a1a" stroke-width="0.3">5</text>
<line x1="251.27" y1="379.00" x2="251.27" y2="374.20" stroke="#5a5a5a" stroke-width="0.6" />
<text x="250.67" y="389.10" font-size="8" text-anchor="middle" font-weight="bold" fill="#1a1a1a" stroke="#1a1a1a" stroke-width="0.3">10</text>
<line x1="335.10" y1="379.00" x2="335.10" y2="374.20" stroke="#5a5a5a" stroke-width="0.6" />
<text x="334.50" y="389.10" font-size="8" text-anchor="middle" font-weight="bold" fill="#1a1a1a" stroke="#1a1a1a" stroke-width="0.3">15</text>
<line x1="418.93" y1="379.00" x2="418.93" y2="374.20" stroke="#5a5a5a" stroke-width="0.6" />
<text x="418.33" y="389.10" font-size="8" text-anchor="middle" font-weight="bold" fill="#1a1a1a" stroke="#1a1a1a" stroke-width="0.3">20</text>
<line x1="502.77" y1="379.00" x2="502.77" y2="374.20" stroke="#5a5a5a" stroke-width="0.6" />
<text x="502.17" y="389.10" font-size="8" text-anchor="middle" font-weight="bold" fill="#1a1a1a" stroke="#1a1a1a" stroke-width="0.3">25</text>
<line x1="586.60" y1="379.00" x2="586.60" y2="374.20" stroke="#5a5a5a" stroke-width="0.6" />
<text x="586.00" y="389.10" font-size="8" text-anchor="middle" font-weight="bold" fill="#1a1a1a" stroke="#1a1a1a" stroke-width="0.3">30</text>
<circle cx="107.36" cy="321.40" r="1.35" fill="#0a0a0a"/>
<circle cx="112.38" cy="321.40" r="1.35" fill="#0a0a0a"/>
<circle cx="117.15" cy="321.40" r="1.35" fill="#0a0a0a"/>
<circle cx="121.92" cy="321.40" r="1.35" fill="#0a0a0a"/>
<circle cx="126.44" cy="321.40" r="1.35" fill="#0a0a0a"/>
<circle cx="131.21" cy="321.40" r="1.35" fill="#0a0a0a"/>
<circle cx="136.23" cy="321.40" r="1.35" fill="#0a0a0a"/>
<circle cx="141.00" cy="321.40" r="1.35" fill="#0a0a0a"/>
<circle cx="145.77" cy="321.40" r="1.35" fill="#0a0a0a"/>
<circle cx="151.30" cy="321.40" r="1.35" fill="#0a0a0a"/>
<circle cx="156.07" cy="321.40" r="1.35" fill="#0a0a0a"/>
<circle cx="160.84" cy="321.40" r="1.35" fill="#0a0a0a"/>
<circle cx="165.86" cy="321.40" r="1.35" fill="#0a0a0a"/>
<circle cx="170.38" cy="321.40" r="1.35" fill="#0a0a0a"/>
<circle cx="175.40" cy="321.40" r="1.35" fill="#0a0a0a"/>
<circle cx="180.42" cy="321.40" r="1.35" fill="#0a0a0a"/>
<circle cx="185.45" cy="321.40" r="1.35" fill="#0a0a0a"/>
<circle cx="190.47" cy="321.40" r="1.35" fill="#0a0a0a"/>
<circle cx="195.74" cy="321.40" r="1.35" fill="#0a0a0a"/>
<circle cx="201.01" cy="321.40" r="1.35" fill="#0a0a0a"/>
<circle cx="207.04" cy="321.40" r="1.35" fill="#0a0a0a"/>
<circle cx="211.81" cy="321.40" r="1.35" fill="#0a0a0a"/>
<circle cx="217.34" cy="321.40" r="1.35" fill="#0a0a0a"/>
<circle cx="222.36" cy="321.40" r="1.35" fill="#0a0a0a"/>
<circle cx="227.63" cy="321.40" r="1.35" fill="#0a0a0a"/>
<circle cx="232.65" cy="321.40" r="1.35" fill="#0a0a0a"/>
<circle cx="237.17" cy="321.40" r="1.35" fill="#0a0a0a"/>
<circle cx="241.69" cy="321.40" r="1.35" fill="#0a0a0a"/>
<circle cx="245.71" cy="321.40" r="1.35" fill="#0a0a0a"/>
<circle cx="250.73" cy="321.40" r="1.35" fill="#0a0a0a"/>
<circle cx="254.52" cy="321.40" r="1.35" fill="#0a0a0a"/>
<circle cx="259.29" cy="321.40" r="1.35" fill="#0a0a0a"/>
<circle cx="263.06" cy="321.40" r="1.35" fill="#0a0a0a"/>
<circle cx="267.33" cy="321.40" r="1.35" fill="#0a0a0a"/>
<circle cx="272.60" cy="321.40" r="1.35" fill="#0a0a0a"/>
<circle cx="277.12" cy="321.40" r="1.35" fill="#0a0a0a"/>
<circle cx="281.89" cy="321.40" r="1.35" fill="#0a0a0a"/>
<circle cx="286.41" cy="321.40" r="1.35" fill="#0a0a0a"/>
<circle cx="291.43" cy="321.40" r="1.35" fill="#0a0a0a"/>
<circle cx="296.20" cy="321.40" r="1.35" fill="#0a0a0a"/>
<circle cx="301.22" cy="321.40" r="1.35" fill="#0a0a0a"/>
<circle cx="305.99" cy="321.40" r="1.35" fill="#0a0a0a"/>
<circle cx="310.26" cy="321.40" r="1.35" fill="#0a0a0a"/>
<circle cx="315.79" cy="321.40" r="1.35" fill="#0a0a0a"/>
<circle cx="320.56" cy="321.40" r="1.35" fill="#0a0a0a"/>
<circle cx="325.58" cy="321.40" r="1.35" fill="#0a0a0a"/>
<circle cx="330.60" cy="321.40" r="1.35" fill="#0a0a0a"/>
<circle cx="335.87" cy="321.40" r="1.35" fill="#0a0a0a"/>
<circle cx="340.65" cy="321.40" r="1.35" fill="#0a0a0a"/>
<circle cx="345.67" cy="321.40" r="1.35" fill="#0a0a0a"/>
<circle cx="350.94" cy="321.40" r="1.35" fill="#0a0a0a"/>
<circle cx="355.71" cy="321.40" r="1.35" fill="#0a0a0a"/>
<circle cx="360.98" cy="321.40" r="1.35" fill="#0a0a0a"/>
<circle cx="365.50" cy="321.40" r="1.35" fill="#0a0a0a"/>
<circle cx="370.78" cy="321.40" r="1.35" fill="#0a0a0a"/>
<circle cx="375.30" cy="321.40" r="1.35" fill="#0a0a0a"/>
<circle cx="380.32" cy="321.40" r="1.35" fill="#0a0a0a"/>
<circle cx="385.84" cy="321.40" r="1.35" fill="#0a0a0a"/>
<circle cx="389.86" cy="321.40" r="1.35" fill="#0a0a0a"/>
<circle cx="394.38" cy="321.40" r="1.35" fill="#0a0a0a"/>
<circle cx="398.65" cy="321.40" r="1.35" fill="#0a0a0a"/>
<circle cx="403.92" cy="321.40" r="1.35" fill="#0a0a0a"/>
<circle cx="408.94" cy="321.40" r="1.35" fill="#0a0a0a"/>
<circle cx="413.71" cy="321.40" r="1.35" fill="#0a0a0a"/>
<circle cx="418.75" cy="321.40" r="1.35" fill="#0a0a0a"/>
<circle cx="423.52" cy="321.40" r="1.35" fill="#0a0a0a"/>
<circle cx="429.05" cy="321.40" r="1.35" fill="#0a0a0a"/>
<circle cx="433.82" cy="321.40" r="1.35" fill="#0a0a0a"/>
<circle cx="438.84" cy="321.40" r="1.35" fill="#0a0a0a"/>
<circle cx="443.61" cy="321.40" r="1.35" fill="#0a0a0a"/>
<circle cx="449.14" cy="321.40" r="1.35" fill="#0a0a0a"/>
<circle cx="454.41" cy="321.40" r="1.35" fill="#0a0a0a"/>
<circle cx="458.93" cy="321.40" r="1.35" fill="#0a0a0a"/>
<circle cx="463.45" cy="321.40" r="1.35" fill="#0a0a0a"/>
<circle cx="468.22" cy="321.40" r="1.35" fill="#0a0a0a"/>
<circle cx="472.99" cy="321.40" r="1.35" fill="#0a0a0a"/>
<circle cx="478.26" cy="321.40" r="1.35" fill="#0a0a0a"/>
<circle cx="482.78" cy="321.40" r="1.35" fill="#0a0a0a"/>
<circle cx="487.55" cy="321.40" r="1.35" fill="#0a0a0a"/>
<circle cx="492.58" cy="321.40" r="1.35" fill="#0a0a0a"/>
<circle cx="497.60" cy="321.40" r="1.35" fill="#0a0a0a"/>
<circle cx="502.37" cy="321.40" r="1.35" fill="#0a0a0a"/>
<circle cx="507.14" cy="321.40" r="1.35" fill="#0a0a0a"/>
<circle cx="512.16" cy="321.40" r="1.35" fill="#0a0a0a"/>
<circle cx="517.43" cy="321.40" r="1.35" fill="#0a0a0a"/>
<circle cx="522.20" cy="321.40" r="1.35" fill="#0a0a0a"/>
<circle cx="526.98" cy="321.40" r="1.35" fill="#0a0a0a"/>
<circle cx="532.00" cy="321.40" r="1.35" fill="#0a0a0a"/>
<circle cx="537.02" cy="321.40" r="1.35" fill="#0a0a0a"/>
<circle cx="542.29" cy="321.40" r="1.35" fill="#0a0a0a"/>
<circle cx="547.31" cy="321.40" r="1.35" fill="#0a0a0a"/>
<circle cx="552.34" cy="321.40" r="1.35" fill="#0a0a0a"/>
<circle cx="557.11" cy="321.40" r="1.35" fill="#0a0a0a"/>
<circle cx="561.63" cy="321.40" r="1.35" fill="#0a0a0a"/>
<circle cx="567.90" cy="321.40" r="1.35" fill="#0a0a0a"/>
<circle cx="572.42" cy="321.40" r="1.35" fill="#0a0a0a"/>
<circle cx="576.69" cy="321.40" r="1.35" fill="#0a0a0a"/>
<circle cx="582.47" cy="321.40" r="1.35" fill="#0a0a0a"/>
<text transform="translate(52.50,424.90) rotate(-90)" font-size="14" text-anchor="middle" font-weight="bold" fill="#000" stroke="#000" stroke-width="0.3" textLength="50.8" lengthAdjust="spacingAndGlyphs">ISI (ms)</text>
<line x1="83.60" y1="401.30" x2="83.60" y2="460.20" stroke="#a6a6a6" stroke-width="0.9" />
<line x1="83.20" y1="459.80" x2="587.00" y2="459.80" stroke="#a6a6a6" stroke-width="0.9" />
<line x1="83.60" y1="405.60" x2="88.70" y2="405.60" stroke="#5a5a5a" stroke-width="0.6" />
<text x="80.90" y="408.35" font-size="8" text-anchor="end" font-weight="bold" fill="#1a1a1a" stroke="#1a1a1a" stroke-width="0.3">1500</text>
<line x1="83.60" y1="423.60" x2="88.70" y2="423.60" stroke="#5a5a5a" stroke-width="0.6" />
<text x="80.90" y="426.35" font-size="8" text-anchor="end" font-weight="bold" fill="#1a1a1a" stroke="#1a1a1a" stroke-width="0.3">1000</text>
<line x1="83.60" y1="441.60" x2="88.70" y2="441.60" stroke="#5a5a5a" stroke-width="0.6" />
<text x="80.90" y="444.35" font-size="8" text-anchor="end" font-weight="bold" fill="#1a1a1a" stroke="#1a1a1a" stroke-width="0.3">500</text>
<text x="80.90" y="462.85" font-size="8" text-anchor="end" font-weight="bold" fill="#1a1a1a" stroke="#1a1a1a" stroke-width="0.3">0</text>
<text x="82.70" y="470.50" font-size="8" text-anchor="middle" font-weight="bold" fill="#1a1a1a" stroke="#1a1a1a" stroke-width="0.3">0</text>
<line x1="167.43" y1="459.80" x2="167.43" y2="455.00" stroke="#5a5a5a" stroke-width="0.6" />
<text x="166.83" y="470.50" font-size="8" text-anchor="middle" font-weight="bold" fill="#1a1a1a" stroke="#1a1a1a" stroke-width="0.3">5</text>
<line x1="251.27" y1="459.80" x2="251.27" y2="455.00" stroke="#5a5a5a" stroke-width="0.6" />
<text x="250.67" y="470.50" font-size="8" text-anchor="middle" font-weight="bold" fill="#1a1a1a" stroke="#1a1a1a" stroke-width="0.3">10</text>
<line x1="335.10" y1="459.80" x2="335.10" y2="455.00" stroke="#5a5a5a" stroke-width="0.6" />
<text x="334.50" y="470.50" font-size="8" text-anchor="middle" font-weight="bold" fill="#1a1a1a" stroke="#1a1a1a" stroke-width="0.3">15</text>
<line x1="418.93" y1="459.80" x2="418.93" y2="455.00" stroke="#5a5a5a" stroke-width="0.6" />
<text x="418.33" y="470.50" font-size="8" text-anchor="middle" font-weight="bold" fill="#1a1a1a" stroke="#1a1a1a" stroke-width="0.3">20</text>
<line x1="502.77" y1="459.80" x2="502.77" y2="455.00" stroke="#5a5a5a" stroke-width="0.6" />
<text x="502.17" y="470.50" font-size="8" text-anchor="middle" font-weight="bold" fill="#1a1a1a" stroke="#1a1a1a" stroke-width="0.3">25</text>
<line x1="586.60" y1="459.80" x2="586.60" y2="455.00" stroke="#5a5a5a" stroke-width="0.6" />
<text x="586.00" y="470.50" font-size="8" text-anchor="middle" font-weight="bold" fill="#1a1a1a" stroke="#1a1a1a" stroke-width="0.3">30</text>
<circle cx="107.36" cy="448.88" r="1.35" fill="#0a0a0a"/>
<circle cx="112.38" cy="449.88" r="1.35" fill="#0a0a0a"/>
<circle cx="117.15" cy="448.62" r="1.35" fill="#0a0a0a"/>
<circle cx="121.92" cy="450.38" r="1.35" fill="#0a0a0a"/>
<circle cx="126.44" cy="449.13" r="1.35" fill="#0a0a0a"/>
<circle cx="131.21" cy="449.13" r="1.35" fill="#0a0a0a"/>
<circle cx="136.23" cy="449.13" r="1.35" fill="#0a0a0a"/>
<circle cx="141.00" cy="448.88" r="1.35" fill="#0a0a0a"/>
<circle cx="145.77" cy="448.12" r="1.35" fill="#0a0a0a"/>
<circle cx="151.30" cy="449.13" r="1.35" fill="#0a0a0a"/>
<circle cx="156.07" cy="449.13" r="1.35" fill="#0a0a0a"/>
<circle cx="160.84" cy="449.13" r="1.35" fill="#0a0a0a"/>
<circle cx="165.86" cy="449.13" r="1.35" fill="#0a0a0a"/>
<circle cx="170.38" cy="448.88" r="1.35" fill="#0a0a0a"/>
<circle cx="175.40" cy="449.38" r="1.35" fill="#0a0a0a"/>
<circle cx="180.42" cy="448.37" r="1.35" fill="#0a0a0a"/>
<circle cx="185.45" cy="448.12" r="1.35" fill="#0a0a0a"/>
<circle cx="190.47" cy="448.62" r="1.35" fill="#0a0a0a"/>
<circle cx="195.74" cy="448.12" r="1.35" fill="#0a0a0a"/>
<circle cx="201.01" cy="446.87" r="1.35" fill="#0a0a0a"/>
<circle cx="207.04" cy="448.62" r="1.35" fill="#0a0a0a"/>
<circle cx="211.81" cy="448.37" r="1.35" fill="#0a0a0a"/>
<circle cx="217.34" cy="448.37" r="1.35" fill="#0a0a0a"/>
<circle cx="222.36" cy="448.37" r="1.35" fill="#0a0a0a"/>
<circle cx="227.63" cy="448.62" r="1.35" fill="#0a0a0a"/>
<circle cx="232.65" cy="449.88" r="1.35" fill="#0a0a0a"/>
<circle cx="237.17" cy="450.13" r="1.35" fill="#0a0a0a"/>
<circle cx="241.69" cy="450.38" r="1.35" fill="#0a0a0a"/>
<circle cx="245.71" cy="449.63" r="1.35" fill="#0a0a0a"/>
<circle cx="250.73" cy="450.63" r="1.35" fill="#0a0a0a"/>
<circle cx="254.52" cy="449.88" r="1.35" fill="#0a0a0a"/>
<circle cx="259.29" cy="451.39" r="1.35" fill="#0a0a0a"/>
<circle cx="263.06" cy="450.13" r="1.35" fill="#0a0a0a"/>
<circle cx="267.33" cy="448.12" r="1.35" fill="#0a0a0a"/>
<circle cx="272.60" cy="449.88" r="1.35" fill="#0a0a0a"/>
<circle cx="277.12" cy="449.38" r="1.35" fill="#0a0a0a"/>
<circle cx="281.89" cy="450.38" r="1.35" fill="#0a0a0a"/>
<circle cx="286.41" cy="449.13" r="1.35" fill="#0a0a0a"/>
<circle cx="291.43" cy="449.13" r="1.35" fill="#0a0a0a"/>
<circle cx="296.20" cy="449.13" r="1.35" fill="#0a0a0a"/>
<circle cx="301.22" cy="450.13" r="1.35" fill="#0a0a0a"/>
<circle cx="305.99" cy="449.63" r="1.35" fill="#0a0a0a"/>
<circle cx="310.26" cy="448.37" r="1.35" fill="#0a0a0a"/>
<circle cx="315.79" cy="449.38" r="1.35" fill="#0a0a0a"/>
<circle cx="320.56" cy="448.88" r="1.35" fill="#0a0a0a"/>
<circle cx="325.58" cy="448.62" r="1.35" fill="#0a0a0a"/>
<circle cx="330.60" cy="448.62" r="1.35" fill="#0a0a0a"/>
<circle cx="335.87" cy="449.13" r="1.35" fill="#0a0a0a"/>
<circle cx="340.65" cy="448.88" r="1.35" fill="#0a0a0a"/>
<circle cx="345.67" cy="448.88" r="1.35" fill="#0a0a0a"/>
<circle cx="350.94" cy="448.88" r="1.35" fill="#0a0a0a"/>
<circle cx="355.71" cy="448.37" r="1.35" fill="#0a0a0a"/>
<circle cx="360.98" cy="449.38" r="1.35" fill="#0a0a0a"/>
<circle cx="365.50" cy="448.88" r="1.35" fill="#0a0a0a"/>
<circle cx="370.78" cy="450.13" r="1.35" fill="#0a0a0a"/>
<circle cx="375.30" cy="449.38" r="1.35" fill="#0a0a0a"/>
<circle cx="380.32" cy="448.12" r="1.35" fill="#0a0a0a"/>
<circle cx="385.84" cy="450.63" r="1.35" fill="#0a0a0a"/>
<circle cx="389.86" cy="449.63" r="1.35" fill="#0a0a0a"/>
<circle cx="394.38" cy="450.13" r="1.35" fill="#0a0a0a"/>
<circle cx="398.65" cy="447.87" r="1.35" fill="#0a0a0a"/>
<circle cx="403.92" cy="449.13" r="1.35" fill="#0a0a0a"/>
<circle cx="408.94" cy="449.38" r="1.35" fill="#0a0a0a"/>
<circle cx="413.71" cy="448.37" r="1.35" fill="#0a0a0a"/>
<circle cx="418.75" cy="449.38" r="1.35" fill="#0a0a0a"/>
<circle cx="423.52" cy="448.37" r="1.35" fill="#0a0a0a"/>
<circle cx="429.05" cy="449.38" r="1.35" fill="#0a0a0a"/>
<circle cx="433.82" cy="449.13" r="1.35" fill="#0a0a0a"/>
<circle cx="438.84" cy="449.63" r="1.35" fill="#0a0a0a"/>
<circle cx="443.61" cy="448.12" r="1.35" fill="#0a0a0a"/>
<circle cx="449.14" cy="449.13" r="1.35" fill="#0a0a0a"/>
<circle cx="454.41" cy="449.63" r="1.35" fill="#0a0a0a"/>
<circle cx="458.93" cy="450.38" r="1.35" fill="#0a0a0a"/>
<circle cx="463.45" cy="449.63" r="1.35" fill="#0a0a0a"/>
<circle cx="468.22" cy="449.63" r="1.35" fill="#0a0a0a"/>
<circle cx="472.99" cy="447.87" r="1.35" fill="#0a0a0a"/>
<circle cx="478.26" cy="450.38" r="1.35" fill="#0a0a0a"/>
<circle cx="482.78" cy="449.13" r="1.35" fill="#0a0a0a"/>
<circle cx="487.55" cy="448.88" r="1.35" fill="#0a0a0a"/>
<circle cx="492.58" cy="449.13" r="1.35" fill="#0a0a0a"/>
<circle cx="497.60" cy="449.38" r="1.35" fill="#0a0a0a"/>
<circle cx="502.37" cy="449.38" r="1.35" fill="#0a0a0a"/>
<circle cx="507.14" cy="449.13" r="1.35" fill="#0a0a0a"/>
<circle cx="512.16" cy="448.12" r="1.35" fill="#0a0a0a"/>
<circle cx="517.43" cy="449.38" r="1.35" fill="#0a0a0a"/>
<circle cx="522.20" cy="450.13" r="1.35" fill="#0a0a0a"/>
<circle cx="526.98" cy="449.13" r="1.35" fill="#0a0a0a"/>
<circle cx="532.00" cy="449.13" r="1.35" fill="#0a0a0a"/>
<circle cx="537.02" cy="448.12" r="1.35" fill="#0a0a0a"/>
<circle cx="542.29" cy="449.13" r="1.35" fill="#0a0a0a"/>
<circle cx="547.31" cy="448.88" r="1.35" fill="#0a0a0a"/>
<circle cx="552.34" cy="449.38" r="1.35" fill="#0a0a0a"/>
<circle cx="557.11" cy="450.38" r="1.35" fill="#0a0a0a"/>
<circle cx="561.63" cy="445.61" r="1.35" fill="#0a0a0a"/>
<circle cx="567.90" cy="450.38" r="1.35" fill="#0a0a0a"/>
<circle cx="572.42" cy="450.13" r="1.35" fill="#0a0a0a"/>
<circle cx="576.69" cy="447.12" r="1.35" fill="#0a0a0a"/>
<circle cx="582.47" cy="450.63" r="1.35" fill="#0a0a0a"/>
<text transform="translate(52.50,496.70) rotate(-90)" font-size="14" text-anchor="middle" font-weight="bold" fill="#000" stroke="#000" stroke-width="0.3" textLength="52.3" lengthAdjust="spacingAndGlyphs">DT (ms)</text>
<line x1="83.60" y1="482.60" x2="83.60" y2="541.50" stroke="#a6a6a6" stroke-width="0.9" />
<line x1="83.20" y1="541.10" x2="587.00" y2="541.10" stroke="#a6a6a6" stroke-width="0.9" />
<line x1="83.60" y1="482.80" x2="88.70" y2="482.80" stroke="#5a5a5a" stroke-width="0.6" />
<text x="80.90" y="485.55" font-size="8" text-anchor="end" font-weight="bold" fill="#1a1a1a" stroke="#1a1a1a" stroke-width="0.3">400</text>
<line x1="83.60" y1="512.00" x2="88.70" y2="512.00" stroke="#5a5a5a" stroke-width="0.6" />
<text x="80.90" y="514.75" font-size="8" text-anchor="end" font-weight="bold" fill="#1a1a1a" stroke="#1a1a1a" stroke-width="0.3">200</text>
<text x="80.90" y="544.25" font-size="8" text-anchor="end" font-weight="bold" fill="#1a1a1a" stroke="#1a1a1a" stroke-width="0.3">0</text>
<text x="82.70" y="551.10" font-size="8" text-anchor="middle" font-weight="bold" fill="#1a1a1a" stroke="#1a1a1a" stroke-width="0.3">0</text>
<line x1="167.43" y1="541.10" x2="167.43" y2="536.30" stroke="#5a5a5a" stroke-width="0.6" />
<text x="166.83" y="551.10" font-size="8" text-anchor="middle" font-weight="bold" fill="#1a1a1a" stroke="#1a1a1a" stroke-width="0.3">5</text>
<line x1="251.27" y1="541.10" x2="251.27" y2="536.30" stroke="#5a5a5a" stroke-width="0.6" />
<text x="250.67" y="551.10" font-size="8" text-anchor="middle" font-weight="bold" fill="#1a1a1a" stroke="#1a1a1a" stroke-width="0.3">10</text>
<line x1="335.10" y1="541.10" x2="335.10" y2="536.30" stroke="#5a5a5a" stroke-width="0.6" />
<text x="334.50" y="551.10" font-size="8" text-anchor="middle" font-weight="bold" fill="#1a1a1a" stroke="#1a1a1a" stroke-width="0.3">15</text>
<line x1="418.93" y1="541.10" x2="418.93" y2="536.30" stroke="#5a5a5a" stroke-width="0.6" />
<text x="418.33" y="551.10" font-size="8" text-anchor="middle" font-weight="bold" fill="#1a1a1a" stroke="#1a1a1a" stroke-width="0.3">20</text>
<line x1="502.77" y1="541.10" x2="502.77" y2="536.30" stroke="#5a5a5a" stroke-width="0.6" />
<text x="502.17" y="551.10" font-size="8" text-anchor="middle" font-weight="bold" fill="#1a1a1a" stroke="#1a1a1a" stroke-width="0.3">25</text>
<line x1="586.60" y1="541.10" x2="586.60" y2="536.30" stroke="#5a5a5a" stroke-width="0.6" />
<text x="586.00" y="551.10" font-size="8" text-anchor="middle" font-weight="bold" fill="#1a1a1a" stroke="#1a1a1a" stroke-width="0.3">30</text>
<circle cx="107.36" cy="524.13" r="1.35" fill="#0a0a0a"/>
<circle cx="112.38" cy="530.40" r="1.35" fill="#0a0a0a"/>
<circle cx="117.15" cy="525.38" r="1.35" fill="#0a0a0a"/>
<circle cx="121.92" cy="531.66" r="1.35" fill="#0a0a0a"/>
<circle cx="126.44" cy="526.89" r="1.35" fill="#0a0a0a"/>
<circle cx="131.21" cy="527.64" r="1.35" fill="#0a0a0a"/>
<circle cx="136.23" cy="527.14" r="1.35" fill="#0a0a0a"/>
<circle cx="141.00" cy="528.40" r="1.35" fill="#0a0a0a"/>
<circle cx="145.77" cy="528.14" r="1.35" fill="#0a0a0a"/>
<circle cx="151.30" cy="529.40" r="1.35" fill="#0a0a0a"/>
<circle cx="156.07" cy="528.90" r="1.35" fill="#0a0a0a"/>
<circle cx="160.84" cy="526.89" r="1.35" fill="#0a0a0a"/>
<circle cx="165.86" cy="528.90" r="1.35" fill="#0a0a0a"/>
<circle cx="170.38" cy="528.14" r="1.35" fill="#0a0a0a"/>
<circle cx="175.40" cy="529.15" r="1.35" fill="#0a0a0a"/>
<circle cx="180.42" cy="526.14" r="1.35" fill="#0a0a0a"/>
<circle cx="185.45" cy="528.14" r="1.35" fill="#0a0a0a"/>
<circle cx="190.47" cy="528.14" r="1.35" fill="#0a0a0a"/>
<circle cx="195.74" cy="526.89" r="1.35" fill="#0a0a0a"/>
<circle cx="201.01" cy="527.89" r="1.35" fill="#0a0a0a"/>
<circle cx="207.04" cy="526.89" r="1.35" fill="#0a0a0a"/>
<circle cx="211.81" cy="528.14" r="1.35" fill="#0a0a0a"/>
<circle cx="217.34" cy="527.39" r="1.35" fill="#0a0a0a"/>
<circle cx="222.36" cy="527.39" r="1.35" fill="#0a0a0a"/>
<circle cx="227.63" cy="525.38" r="1.35" fill="#0a0a0a"/>
<circle cx="232.65" cy="530.15" r="1.35" fill="#0a0a0a"/>
<circle cx="237.17" cy="527.89" r="1.35" fill="#0a0a0a"/>
<circle cx="241.69" cy="530.40" r="1.35" fill="#0a0a0a"/>
<circle cx="245.71" cy="526.89" r="1.35" fill="#0a0a0a"/>
<circle cx="250.73" cy="531.41" r="1.35" fill="#0a0a0a"/>
<circle cx="254.52" cy="526.89" r="1.35" fill="#0a0a0a"/>
<circle cx="259.29" cy="529.65" r="1.35" fill="#0a0a0a"/>
<circle cx="263.06" cy="526.89" r="1.35" fill="#0a0a0a"/>
<circle cx="267.33" cy="531.91" r="1.35" fill="#0a0a0a"/>
<circle cx="272.60" cy="530.40" r="1.35" fill="#0a0a0a"/>
<circle cx="277.12" cy="529.15" r="1.35" fill="#0a0a0a"/>
<circle cx="281.89" cy="529.15" r="1.35" fill="#0a0a0a"/>
<circle cx="286.41" cy="527.39" r="1.35" fill="#0a0a0a"/>
<circle cx="291.43" cy="529.65" r="1.35" fill="#0a0a0a"/>
<circle cx="296.20" cy="527.89" r="1.35" fill="#0a0a0a"/>
<circle cx="301.22" cy="530.91" r="1.35" fill="#0a0a0a"/>
<circle cx="305.99" cy="528.14" r="1.35" fill="#0a0a0a"/>
<circle cx="310.26" cy="528.14" r="1.35" fill="#0a0a0a"/>
<circle cx="315.79" cy="529.40" r="1.35" fill="#0a0a0a"/>
<circle cx="320.56" cy="528.14" r="1.35" fill="#0a0a0a"/>
<circle cx="325.58" cy="529.65" r="1.35" fill="#0a0a0a"/>
<circle cx="330.60" cy="526.89" r="1.35" fill="#0a0a0a"/>
<circle cx="335.87" cy="529.40" r="1.35" fill="#0a0a0a"/>
<circle cx="340.65" cy="528.14" r="1.35" fill="#0a0a0a"/>
<circle cx="345.67" cy="530.91" r="1.35" fill="#0a0a0a"/>
<circle cx="350.94" cy="528.40" r="1.35" fill="#0a0a0a"/>
<circle cx="355.71" cy="527.14" r="1.35" fill="#0a0a0a"/>
<circle cx="360.98" cy="528.90" r="1.35" fill="#0a0a0a"/>
<circle cx="365.50" cy="526.14" r="1.35" fill="#0a0a0a"/>
<circle cx="370.78" cy="529.90" r="1.35" fill="#0a0a0a"/>
<circle cx="375.30" cy="528.40" r="1.35" fill="#0a0a0a"/>
<circle cx="380.32" cy="526.14" r="1.35" fill="#0a0a0a"/>
<circle cx="385.84" cy="530.40" r="1.35" fill="#0a0a0a"/>
<circle cx="389.86" cy="528.40" r="1.35" fill="#0a0a0a"/>
<circle cx="394.38" cy="529.15" r="1.35" fill="#0a0a0a"/>
<circle cx="398.65" cy="526.64" r="1.35" fill="#0a0a0a"/>
<circle cx="403.92" cy="528.90" r="1.35" fill="#0a0a0a"/>
<circle cx="408.94" cy="530.40" r="1.35" fill="#0a0a0a"/>
<circle cx="413.71" cy="531.41" r="1.35" fill="#0a0a0a"/>
<circle cx="418.75" cy="528.00" r="1.35" fill="#0a0a0a"/>
<circle cx="423.52" cy="529.26" r="1.35" fill="#0a0a0a"/>
<circle cx="429.05" cy="531.02" r="1.35" fill="#0a0a0a"/>
<circle cx="433.82" cy="533.02" r="1.35" fill="#0a0a0a"/>
<circle cx="438.84" cy="533.02" r="1.35" fill="#0a0a0a"/>
<circle cx="443.61" cy="528.00" r="1.35" fill="#0a0a0a"/>
<circle cx="449.14" cy="529.01" r="1.35" fill="#0a0a0a"/>
<circle cx="454.41" cy="530.01" r="1.35" fill="#0a0a0a"/>
<circle cx="458.93" cy="532.02" r="1.35" fill="#0a0a0a"/>
<circle cx="463.45" cy="529.51" r="1.35" fill="#0a0a0a"/>
<circle cx="468.22" cy="529.76" r="1.35" fill="#0a0a0a"/>
<circle cx="472.99" cy="528.51" r="1.35" fill="#0a0a0a"/>
<circle cx="478.26" cy="530.01" r="1.35" fill="#0a0a0a"/>
<circle cx="482.78" cy="528.51" r="1.35" fill="#0a0a0a"/>
<circle cx="487.55" cy="530.01" r="1.35" fill="#0a0a0a"/>
<circle cx="492.58" cy="528.00" r="1.35" fill="#0a0a0a"/>
<circle cx="497.60" cy="530.51" r="1.35" fill="#0a0a0a"/>
<circle cx="502.37" cy="529.76" r="1.35" fill="#0a0a0a"/>
<circle cx="507.14" cy="530.76" r="1.35" fill="#0a0a0a"/>
<circle cx="512.16" cy="528.51" r="1.35" fill="#0a0a0a"/>
<circle cx="517.43" cy="530.76" r="1.35" fill="#0a0a0a"/>
<circle cx="522.20" cy="530.01" r="1.35" fill="#0a0a0a"/>
<circle cx="526.98" cy="529.51" r="1.35" fill="#0a0a0a"/>
<circle cx="532.00" cy="529.51" r="1.35" fill="#0a0a0a"/>
<circle cx="537.02" cy="528.00" r="1.35" fill="#0a0a0a"/>
<circle cx="542.29" cy="532.27" r="1.35" fill="#0a0a0a"/>
<circle cx="547.31" cy="525.49" r="1.35" fill="#0a0a0a"/>
<circle cx="552.34" cy="531.02" r="1.35" fill="#0a0a0a"/>
<circle cx="557.11" cy="528.00" r="1.35" fill="#0a0a0a"/>
<circle cx="561.63" cy="515.95" r="1.35" fill="#0a0a0a"/>
<circle cx="567.90" cy="531.52" r="1.35" fill="#0a0a0a"/>
<circle cx="572.42" cy="527.00" r="1.35" fill="#0a0a0a"/>
<circle cx="576.69" cy="515.70" r="1.35" fill="#0a0a0a"/>
<circle cx="582.47" cy="531.52" r="1.35" fill="#0a0a0a"/>
<text x="-1.80" y="584.60" font-size="20.5" text-anchor="start" font-weight="bold" fill="#000" >c</text>
<text x="355.10" y="582.10" font-size="17" text-anchor="middle" font-weight="bold" fill="#000" textLength="291.2" lengthAdjust="spacingAndGlyphs">Individual with Parkinson’s Disease</text>
<text transform="translate(37.90,625.20) rotate(-90)" font-size="14" text-anchor="middle" font-weight="bold" fill="#000" stroke="#000" stroke-width="0.3" >Key</text>
<text transform="translate(57.00,625.70) rotate(-90)" font-size="14" text-anchor="middle" font-weight="bold" fill="#000" stroke="#000" stroke-width="0.3" textLength="94" lengthAdjust="spacingAndGlyphs">Position (mm)</text>
<line x1="82.90" y1="594.60" x2="82.90" y2="654.00" stroke="#a6a6a6" stroke-width="0.9" />
<line x1="82.50" y1="653.60" x2="581.70" y2="653.60" stroke="#a6a6a6" stroke-width="0.9" />
<line x1="82.90" y1="600.90" x2="88.00" y2="600.90" stroke="#5a5a5a" stroke-width="0.6" />
<text x="80.20" y="603.65" font-size="8" text-anchor="end" font-weight="bold" fill="#1a1a1a" stroke="#1a1a1a" stroke-width="0.3">12</text>
<line x1="82.90" y1="612.40" x2="88.00" y2="612.40" stroke="#5a5a5a" stroke-width="0.6" />
<text x="80.20" y="615.15" font-size="8" text-anchor="end" font-weight="bold" fill="#1a1a1a" stroke="#1a1a1a" stroke-width="0.3">10</text>
<line x1="82.90" y1="624.00" x2="88.00" y2="624.00" stroke="#5a5a5a" stroke-width="0.6" />
<text x="80.20" y="626.75" font-size="8" text-anchor="end" font-weight="bold" fill="#1a1a1a" stroke="#1a1a1a" stroke-width="0.3">8</text>
<line x1="82.90" y1="635.50" x2="88.00" y2="635.50" stroke="#5a5a5a" stroke-width="0.6" />
<text x="80.20" y="638.25" font-size="8" text-anchor="end" font-weight="bold" fill="#1a1a1a" stroke="#1a1a1a" stroke-width="0.3">6</text>
<line x1="82.90" y1="647.10" x2="88.00" y2="647.10" stroke="#5a5a5a" stroke-width="0.6" />
<text x="80.20" y="649.85" font-size="8" text-anchor="end" font-weight="bold" fill="#1a1a1a" stroke="#1a1a1a" stroke-width="0.3">4</text>
<text x="82.00" y="664.40" font-size="8" text-anchor="middle" font-weight="bold" fill="#1a1a1a" stroke="#1a1a1a" stroke-width="0.3">0</text>
<line x1="165.97" y1="653.60" x2="165.97" y2="648.80" stroke="#5a5a5a" stroke-width="0.6" />
<text x="165.37" y="664.40" font-size="8" text-anchor="middle" font-weight="bold" fill="#1a1a1a" stroke="#1a1a1a" stroke-width="0.3">5</text>
<line x1="249.03" y1="653.60" x2="249.03" y2="648.80" stroke="#5a5a5a" stroke-width="0.6" />
<text x="248.43" y="664.40" font-size="8" text-anchor="middle" font-weight="bold" fill="#1a1a1a" stroke="#1a1a1a" stroke-width="0.3">10</text>
<line x1="332.10" y1="653.60" x2="332.10" y2="648.80" stroke="#5a5a5a" stroke-width="0.6" />
<text x="331.50" y="664.40" font-size="8" text-anchor="middle" font-weight="bold" fill="#1a1a1a" stroke="#1a1a1a" stroke-width="0.3">15</text>
<line x1="415.17" y1="653.60" x2="415.17" y2="648.80" stroke="#5a5a5a" stroke-width="0.6" />
<text x="414.57" y="664.40" font-size="8" text-anchor="middle" font-weight="bold" fill="#1a1a1a" stroke="#1a1a1a" stroke-width="0.3">20</text>
<line x1="498.23" y1="653.60" x2="498.23" y2="648.80" stroke="#5a5a5a" stroke-width="0.6" />
<text x="497.63" y="664.40" font-size="8" text-anchor="middle" font-weight="bold" fill="#1a1a1a" stroke="#1a1a1a" stroke-width="0.3">25</text>
<line x1="581.30" y1="653.60" x2="581.30" y2="648.80" stroke="#5a5a5a" stroke-width="0.6" />
<text x="580.70" y="664.40" font-size="8" text-anchor="middle" font-weight="bold" fill="#1a1a1a" stroke="#1a1a1a" stroke-width="0.3">30</text>
<clipPath id="cc"><rect x="82.5" y="592" width="499.5" height="61.6"/></clipPath>
<g clip-path="url(#cc)">
<polyline points="99.32,595.40 122.92,595.40 123.80,602.55 124.43,627.66 124.93,647.75 126.31,648.38 126.94,633.94 128.45,601.30 129.45,612.60 130.08,620.76 131.34,596.28 132.34,595.65 132.97,602.55 133.85,633.94 134.47,648.38 136.36,649.01 137.61,647.12 138.24,627.66 139.50,608.20 140.75,616.36 142.64,631.43 144.52,645.24 145.77,648.38 147.03,647.75 148.28,640.22 150.80,639.59 151.42,633.94 153.31,611.34 154.81,602.18 155.82,605.07 157.07,621.39 158.96,640.22 160.21,646.50 161.47,643.99 163.35,645.24 164.86,644.61 165.00,621.39 166.26,615.11 167.51,622.64 169.39,642.73 170.65,647.75 171.91,647.12 172.53,633.94 174.42,631.43 175.29,615.11 176.05,606.95 176.93,615.11 177.55,633.94 178.81,647.75 180.69,648.38 181.95,640.22 183.83,627.66 185.72,608.83 187.35,598.16 188.23,602.55 189.11,621.39 190.11,646.50 191.99,647.75 193.25,637.71 194.13,630.18 195.76,637.08 197.39,637.08 198.27,615.11 199.15,612.60 200.78,638.96 202.04,631.43 202.66,623.90 204.17,622.64 205.18,613.23 206.43,612.60 207.44,596.28 208.31,595.65 208.94,605.07 209.57,633.94 210.20,648.38 212.08,648.38 213.34,643.99 215.22,631.43 217.73,615.11 220.24,600.04 221.50,595.27 222.50,596.28 224.01,608.83 225.89,627.66 227.77,642.73 229.03,647.75 230.91,648.38 232.80,645.24 234.68,631.43 237.19,608.83 239.07,596.28 240.33,595.27 241.58,597.53 243.47,606.32 244.72,621.39 245.98,640.22 246.61,647.75 247.00,649.01 248.26,643.99 250.77,627.66 253.91,608.83 256.79,595.65 259.55,595.40 260.18,602.55 260.81,627.66 261.44,645.24 262.69,648.38 264.58,648.38 266.46,643.99 267.34,627.66 268.34,608.83 270.23,608.20 270.85,597.53 271.48,595.65 284.04,595.65 284.66,602.55 285.29,627.66 285.92,646.50 287.18,649.01 288.68,646.50 289.69,633.94 290.69,608.83 291.57,595.65 292.45,605.07 293.45,616.36 294.71,606.32 295.71,596.28 296.59,595.65 297.22,608.83 297.85,633.94 298.47,646.50 300.36,649.01 301.61,647.75 302.49,640.22 303.50,621.39 304.50,616.99 305.00,626.41 306.01,625.15 307.01,608.83 310.40,608.20 311.28,597.53 312.03,595.40 320.45,595.40 321.07,602.55 321.70,627.66 322.33,645.24 323.84,648.38 325.47,647.75 326.72,642.73 327.60,627.66 328.61,613.85 329.00,632.69 329.63,615.11 331.51,608.83 333.39,600.04 335.28,595.65 339.67,595.65 340.55,602.55 340.93,627.66 341.30,648.38 343.81,648.38 344.69,633.94 345.57,615.11 346.58,615.74 347.58,630.18 348.46,615.11 349.72,602.55 350.59,595.65 353.48,595.65 354.74,602.55 355.62,621.39 356.37,648.38 358.50,648.38 359.76,640.22 361.01,626.41 362.27,623.90 363.53,601.30 364.15,606.32 364.78,621.39 365.41,635.82 366.66,627.66 367.67,608.83 369.80,606.95 370.68,596.28 386.75,596.03 389.26,602.55 390.52,608.83 391.15,627.66 391.77,648.38 393.66,649.01 395.54,646.50 397.42,640.22 401.82,621.39 405.58,608.83 408.72,600.04 410.61,596.28 411.00,596.03 413.51,596.03 414.52,602.55 415.14,621.39 415.77,642.73 416.65,647.75 418.53,648.38 420.79,647.12 422.05,640.22 422.93,636.45 423.81,633.94 424.56,615.11 425.44,600.67 426.69,599.42 427.32,596.03 432.09,595.65 432.97,600.04 434.23,608.83 435.11,627.66 435.86,643.99 436.74,649.01 437.62,648.38 438.62,637.71 439.62,621.39 440.50,611.34 441.38,625.15 442.14,632.06 443.01,621.39 443.89,610.09 444.90,608.83 445.90,602.55 446.78,598.16 448.04,598.79 449.29,596.28 449.92,602.55 450.92,615.11 451.80,633.94 452.43,646.50 453.44,649.64 454.94,649.01 456.82,646.50 457.70,640.22 458.71,627.66 460.59,608.83 461.85,595.65 468.75,595.65 469.76,602.55 470.64,621.39 471.26,640.22 471.89,648.38 472.77,648.38 473.77,642.73 475.03,631.43 476.54,615.11 478.17,600.04 479.05,595.65 485.07,595.65 486.08,602.55 486.96,612.60 488.21,621.39 489.47,633.94 490.35,645.24 491.35,649.01 492.86,648.38 493.00,648.38 494.88,647.75 495.76,640.22 496.52,627.04 498.02,623.90 499.28,612.60 500.28,596.28 506.18,596.03 506.56,608.83 507.06,627.66 507.81,646.50 508.69,648.76 511.20,648.38 512.84,646.50 513.72,633.94 514.97,615.11 515.85,606.32 517.48,603.81 518.36,596.03 523.13,595.65 524.14,602.55 525.39,608.83 525.89,627.66 526.65,645.24 527.53,648.76 530.04,649.01 531.29,646.50 532.17,637.71 533.18,625.15 535.06,612.60 536.94,606.32 538.45,596.28 544.47,595.65 545.10,602.55 545.73,611.34 546.73,621.39 547.61,633.94 548.24,646.50 549.25,649.01 551.38,648.38 552.01,640.22 553.01,627.66 554.27,621.39 555.15,612.60 555.77,597.53 556.40,595.27 557.66,596.91 558.28,599.42 559.54,600.04 560.80,600.04 561.42,596.28 562.05,595.27 565.19,595.65 566.45,600.04 567.70,608.83 568.33,627.66 568.58,645.24 569.58,648.38 571.47,647.75 572.72,645.24 573.60,637.71 574.35,627.66 575.23,623.27 575.86,627.66 576.49,628.92 577.37,615.11 578.12,605.07 579.00,601.93 580.00,601.50 581.20,594.80" fill="none" stroke="#161616" stroke-width="0.9" stroke-linejoin="round" stroke-linecap="butt" />
<polyline points="99.32,619.13 118.15,619.13 120.66,616.36 123.18,615.11 124.18,612.60 125.06,623.90 125.69,624.53 126.94,610.09 127.95,610.72 128.82,627.66 129.45,646.50 133.85,646.75 135.10,633.94 136.73,615.74 137.61,618.88 138.87,640.22 140.12,650.89 141.38,651.52 143.89,647.75 145.77,642.73 147.03,627.66 148.54,616.99 149.54,627.66 150.80,649.64 151.80,650.89 153.31,645.24 154.81,635.20 155.82,643.99 158.33,645.24 160.21,645.24 162.09,637.71 163.98,627.66 165.00,622.64 166.26,615.11 168.14,608.83 169.39,615.11 170.65,640.22 171.53,649.64 173.16,650.26 174.42,645.24 175.67,627.66 176.93,613.85 178.18,627.66 179.44,621.39 181.32,610.09 182.33,610.72 183.20,627.66 183.83,650.26 185.09,651.27 186.34,640.22 187.35,622.64 188.23,633.94 188.85,649.01 190.74,648.38 191.99,645.24 193.25,633.94 195.13,622.64 197.01,611.34 198.65,603.18 199.53,606.32 200.15,621.39 200.78,640.22 201.41,650.26 202.66,650.89 204.55,645.24 205.80,631.43 207.69,616.36 208.94,617.62 210.20,620.13 212.08,619.50 213.34,612.60 214.97,612.35 215.60,621.39 216.22,640.22 216.73,650.26 218.36,650.89 220.24,646.50 221.25,627.66 222.12,616.36 226.52,615.74 227.52,627.66 228.40,645.24 230.28,645.24 230.91,633.94 231.54,619.50 234.68,619.50 235.31,633.94 235.93,650.26 237.19,650.89 238.07,640.22 239.07,621.39 239.95,614.48 241.58,621.39 243.47,631.43 245.35,642.73 246.35,635.20 247.00,632.69 248.26,621.39 250.14,614.48 251.39,618.88 252.27,640.22 253.28,651.52 254.53,650.26 256.42,645.24 258.30,631.43 260.18,615.11 261.44,602.55 262.32,596.91 263.32,596.03 276.13,596.03 276.63,602.55 277.13,633.94 277.76,650.26 279.01,650.89 280.27,645.24 281.53,633.94 282.78,621.39 284.04,615.11 285.29,615.74 286.17,620.76 287.80,620.76 289.06,611.34 290.31,609.46 291.19,621.39 291.95,640.22 292.82,651.52 294.08,652.15 294.96,640.22 295.71,621.39 296.34,619.50 297.22,633.94 297.85,640.22 299.10,641.47 300.36,633.94 301.61,627.66 302.87,606.32 303.75,605.69 304.50,621.39 305.00,640.22 305.76,650.26 307.26,650.89 309.15,648.38 312.28,648.38 315.42,647.75 316.68,643.99 317.93,627.66 318.81,618.88 319.82,627.66 321.07,642.73 322.33,645.87 324.21,645.24 325.47,640.22 326.72,627.66 327.60,626.41 328.61,640.22 329.00,649.01 330.26,651.52 332.14,649.64 334.02,647.75 335.91,633.94 337.79,621.39 339.67,612.60 340.55,621.39 341.55,640.22 342.81,639.59 343.81,627.66 345.32,608.83 346.07,621.39 346.58,640.22 347.20,651.52 348.46,652.15 350.34,649.01 351.60,646.50 352.85,648.38 354.74,649.01 356.62,650.26 357.88,646.50 359.13,637.71 360.39,627.66 361.89,626.41 362.90,627.04 363.53,640.22 364.78,651.52 366.04,651.52 367.29,645.24 368.55,635.20 369.80,632.69 371.06,623.90 371.94,620.38 376.08,621.14 377.34,626.41 379.22,631.43 380.47,640.22 381.48,646.50 384.87,646.50 385.50,633.94 386.12,615.11 386.50,606.95 387.38,620.13 388.64,621.39 389.89,623.90 390.77,633.94 391.52,646.50 393.03,649.01 394.28,645.24 395.54,633.94 396.80,631.43 397.80,621.39 398.43,614.48 399.31,621.39 399.93,633.94 401.19,646.50 403.07,650.89 404.96,650.26 406.84,645.24 408.72,633.94 409.98,623.90 410.86,617.62 411.00,616.99 413.51,616.36 414.77,617.62 415.39,627.66 416.02,635.20 417.91,637.08 418.78,642.73 420.42,649.01 422.30,651.52 423.81,650.26 425.06,642.73 426.32,627.66 427.95,612.60 429.20,602.55 430.08,601.93 430.84,606.32 432.97,608.20 434.23,615.11 435.48,627.66 436.11,636.45 437.36,635.20 438.37,631.43 439.25,640.22 440.13,649.01 441.13,652.15 442.39,651.52 443.89,645.24 445.53,627.66 447.41,612.60 449.29,601.93 450.17,608.83 451.18,627.66 452.18,642.73 453.06,647.12 456.82,647.12 459.34,646.50 460.21,640.22 461.22,627.66 463.10,623.27 464.36,618.88 465.61,616.99 466.24,610.09 469.76,610.09 470.26,621.39 471.01,633.94 471.89,639.59 472.52,621.39 473.15,602.55 474.15,602.55 474.53,621.39 474.78,640.22 475.28,646.50 480.68,646.75 481.31,640.22 481.93,634.57 483.19,632.69 484.07,621.39 485.07,608.83 485.95,601.93 486.71,608.83 487.58,613.23 489.47,614.48 490.35,621.39 491.10,631.43 492.61,632.44 493.00,632.69 493.63,632.69 494.26,640.22 494.88,650.89 496.14,652.15 497.77,649.01 498.65,640.22 499.53,630.18 500.28,627.66 500.78,608.83 501.54,603.81 502.42,606.32 503.67,612.60 505.55,621.39 507.44,630.18 509.32,637.71 511.20,646.50 512.46,651.52 513.72,652.77 514.97,650.26 516.85,647.75 518.11,638.96 519.11,633.31 519.99,630.18 520.87,621.39 521.88,620.13 523.76,621.39 525.39,622.01 526.27,633.94 526.90,640.22 528.40,640.85 529.41,649.01 530.66,652.77 531.92,652.15 533.43,649.01 535.06,642.73 536.31,633.94 537.57,627.66 538.82,615.11 539.70,608.83 540.71,608.83 541.34,613.85 542.21,611.97 542.97,600.04 543.60,596.91 544.22,602.55 545.10,609.46 546.36,608.20 547.61,610.09 548.24,618.88 548.87,627.66 550.12,642.73 551.00,640.22 551.76,627.66 552.64,620.13 553.89,620.76 555.15,627.66 556.40,637.71 557.66,646.50 558.91,650.26 560.80,652.15 561.80,649.01 562.68,642.73 563.56,640.22 564.31,627.66 564.81,623.27 567.70,623.27 568.33,633.94 568.96,642.73 569.58,630.18 570.84,627.66 571.47,613.85 573.35,612.35 574.35,612.60 574.86,627.66 575.23,645.24 576.11,650.89 577.74,651.52 578.62,650.01 579.60,648.50 580.50,644.00 581.40,637.80" fill="none" stroke="#1f7fcc" stroke-width="0.9" stroke-linejoin="round" stroke-linecap="butt" />
</g>
<text transform="translate(54.40,714.30) rotate(-90)" font-size="14" text-anchor="middle" font-weight="bold" fill="#000" stroke="#000" stroke-width="0.3" textLength="70" lengthAdjust="spacingAndGlyphs">Amp (mm)</text>
<line x1="82.90" y1="677.10" x2="82.90" y2="736.70" stroke="#a6a6a6" stroke-width="0.9" />
<line x1="82.50" y1="736.30" x2="581.70" y2="736.30" stroke="#a6a6a6" stroke-width="0.9" />
<line x1="82.90" y1="683.40" x2="88.00" y2="683.40" stroke="#5a5a5a" stroke-width="0.6" />
<text x="80.20" y="686.15" font-size="8" text-anchor="end" font-weight="bold" fill="#1a1a1a" stroke="#1a1a1a" stroke-width="0.3">8</text>
<line x1="82.90" y1="696.60" x2="88.00" y2="696.60" stroke="#5a5a5a" stroke-width="0.6" />
<text x="80.20" y="699.35" font-size="8" text-anchor="end" font-weight="bold" fill="#1a1a1a" stroke="#1a1a1a" stroke-width="0.3">6</text>
<line x1="82.90" y1="709.80" x2="88.00" y2="709.80" stroke="#5a5a5a" stroke-width="0.6" />
<text x="80.20" y="712.55" font-size="8" text-anchor="end" font-weight="bold" fill="#1a1a1a" stroke="#1a1a1a" stroke-width="0.3">4</text>
<line x1="82.90" y1="723.00" x2="88.00" y2="723.00" stroke="#5a5a5a" stroke-width="0.6" />
<text x="80.20" y="725.75" font-size="8" text-anchor="end" font-weight="bold" fill="#1a1a1a" stroke="#1a1a1a" stroke-width="0.3">2</text>
<text x="80.20" y="739.45" font-size="8" text-anchor="end" font-weight="bold" fill="#1a1a1a" stroke="#1a1a1a" stroke-width="0.3">0</text>
<text x="82.00" y="746.60" font-size="8" text-anchor="middle" font-weight="bold" fill="#1a1a1a" stroke="#1a1a1a" stroke-width="0.3">0</text>
<line x1="165.97" y1="736.30" x2="165.97" y2="731.50" stroke="#5a5a5a" stroke-width="0.6" />
<text x="165.37" y="746.60" font-size="8" text-anchor="middle" font-weight="bold" fill="#1a1a1a" stroke="#1a1a1a" stroke-width="0.3">5</text>
<line x1="249.03" y1="736.30" x2="249.03" y2="731.50" stroke="#5a5a5a" stroke-width="0.6" />
<text x="248.43" y="746.60" font-size="8" text-anchor="middle" font-weight="bold" fill="#1a1a1a" stroke="#1a1a1a" stroke-width="0.3">10</text>
<line x1="332.10" y1="736.30" x2="332.10" y2="731.50" stroke="#5a5a5a" stroke-width="0.6" />
<text x="331.50" y="746.60" font-size="8" text-anchor="middle" font-weight="bold" fill="#1a1a1a" stroke="#1a1a1a" stroke-width="0.3">15</text>
<line x1="415.17" y1="736.30" x2="415.17" y2="731.50" stroke="#5a5a5a" stroke-width="0.6" />
<text x="414.57" y="746.60" font-size="8" text-anchor="middle" font-weight="bold" fill="#1a1a1a" stroke="#1a1a1a" stroke-width="0.3">20</text>
<line x1="498.23" y1="736.30" x2="498.23" y2="731.50" stroke="#5a5a5a" stroke-width="0.6" />
<text x="497.63" y="746.60" font-size="8" text-anchor="middle" font-weight="bold" fill="#1a1a1a" stroke="#1a1a1a" stroke-width="0.3">25</text>
<line x1="581.30" y1="736.30" x2="581.30" y2="731.50" stroke="#5a5a5a" stroke-width="0.6" />
<text x="580.70" y="746.60" font-size="8" text-anchor="middle" font-weight="bold" fill="#1a1a1a" stroke="#1a1a1a" stroke-width="0.3">30</text>
<circle cx="113.38" cy="713.70" r="1.35" fill="#0a0a0a"/>
<circle cx="117.15" cy="678.04" r="1.35" fill="#0a0a0a"/>
<circle cx="124.18" cy="692.36" r="1.35" fill="#0a0a0a"/>
<circle cx="140.50" cy="685.58" r="1.35" fill="#0a0a0a"/>
<circle cx="152.05" cy="699.89" r="1.35" fill="#0a0a0a"/>
<circle cx="162.35" cy="691.10" r="1.35" fill="#0a0a0a"/>
<circle cx="173.90" cy="680.05" r="1.35" fill="#0a0a0a"/>
<circle cx="180.93" cy="729.27" r="1.35" fill="#0a0a0a"/>
<circle cx="185.45" cy="703.40" r="1.35" fill="#0a0a0a"/>
<circle cx="194.74" cy="677.79" r="1.35" fill="#0a0a0a"/>
<circle cx="209.55" cy="678.04" r="1.35" fill="#0a0a0a"/>
<circle cx="229.14" cy="677.79" r="1.35" fill="#0a0a0a"/>
<circle cx="248.47" cy="677.79" r="1.35" fill="#0a0a0a"/>
<circle cx="273.35" cy="678.04" r="1.35" fill="#0a0a0a"/>
<circle cx="280.63" cy="712.19" r="1.35" fill="#0a0a0a"/>
<circle cx="286.16" cy="678.04" r="1.35" fill="#0a0a0a"/>
<circle cx="293.69" cy="726.51" r="1.35" fill="#0a0a0a"/>
<circle cx="310.76" cy="678.04" r="1.35" fill="#0a0a0a"/>
<circle cx="318.80" cy="714.95" r="1.35" fill="#0a0a0a"/>
<circle cx="330.60" cy="678.04" r="1.35" fill="#0a0a0a"/>
<circle cx="337.13" cy="717.47" r="1.35" fill="#0a0a0a"/>
<circle cx="344.41" cy="678.04" r="1.35" fill="#0a0a0a"/>
<circle cx="354.96" cy="696.62" r="1.35" fill="#0a0a0a"/>
<circle cx="379.31" cy="678.29" r="1.35" fill="#0a0a0a"/>
<circle cx="406.43" cy="678.29" r="1.35" fill="#0a0a0a"/>
<circle cx="426.29" cy="678.29" r="1.35" fill="#0a0a0a"/>
<circle cx="434.07" cy="713.20" r="1.35" fill="#0a0a0a"/>
<circle cx="443.36" cy="678.80" r="1.35" fill="#0a0a0a"/>
<circle cx="463.20" cy="678.04" r="1.35" fill="#0a0a0a"/>
<circle cx="480.52" cy="678.04" r="1.35" fill="#0a0a0a"/>
<circle cx="502.12" cy="678.04" r="1.35" fill="#0a0a0a"/>
<circle cx="518.94" cy="678.04" r="1.35" fill="#0a0a0a"/>
<circle cx="541.04" cy="678.04" r="1.35" fill="#0a0a0a"/>
<circle cx="562.88" cy="678.04" r="1.35" fill="#0a0a0a"/>
<circle cx="554.60" cy="732.03" r="1.35" fill="#0a0a0a"/>
<circle cx="572.93" cy="730.02" r="1.35" fill="#0a0a0a"/>
<text transform="translate(51.80,795.80) rotate(-90)" font-size="14" text-anchor="middle" font-weight="bold" fill="#000" stroke="#000" stroke-width="0.3" textLength="51.5" lengthAdjust="spacingAndGlyphs">ISI (ms)</text>
<line x1="82.90" y1="759.60" x2="82.90" y2="819.20" stroke="#a6a6a6" stroke-width="0.9" />
<line x1="82.50" y1="818.80" x2="581.70" y2="818.80" stroke="#a6a6a6" stroke-width="0.9" />
<line x1="82.90" y1="763.10" x2="88.00" y2="763.10" stroke="#5a5a5a" stroke-width="0.6" />
<text x="80.20" y="765.85" font-size="8" text-anchor="end" font-weight="bold" fill="#1a1a1a" stroke="#1a1a1a" stroke-width="0.3">1500</text>
<line x1="82.90" y1="781.60" x2="88.00" y2="781.60" stroke="#5a5a5a" stroke-width="0.6" />
<text x="80.20" y="784.35" font-size="8" text-anchor="end" font-weight="bold" fill="#1a1a1a" stroke="#1a1a1a" stroke-width="0.3">1000</text>
<line x1="82.90" y1="800.10" x2="88.00" y2="800.10" stroke="#5a5a5a" stroke-width="0.6" />
<text x="80.20" y="802.85" font-size="8" text-anchor="end" font-weight="bold" fill="#1a1a1a" stroke="#1a1a1a" stroke-width="0.3">500</text>
<text x="80.20" y="821.95" font-size="8" text-anchor="end" font-weight="bold" fill="#1a1a1a" stroke="#1a1a1a" stroke-width="0.3">0</text>
<text x="82.00" y="829.30" font-size="8" text-anchor="middle" font-weight="bold" fill="#1a1a1a" stroke="#1a1a1a" stroke-width="0.3">0</text>
<line x1="165.97" y1="818.80" x2="165.97" y2="814.00" stroke="#5a5a5a" stroke-width="0.6" />
<text x="165.37" y="829.30" font-size="8" text-anchor="middle" font-weight="bold" fill="#1a1a1a" stroke="#1a1a1a" stroke-width="0.3">5</text>
<line x1="249.03" y1="818.80" x2="249.03" y2="814.00" stroke="#5a5a5a" stroke-width="0.6" />
<text x="248.43" y="829.30" font-size="8" text-anchor="middle" font-weight="bold" fill="#1a1a1a" stroke="#1a1a1a" stroke-width="0.3">10</text>
<line x1="332.10" y1="818.80" x2="332.10" y2="814.00" stroke="#5a5a5a" stroke-width="0.6" />
<text x="331.50" y="829.30" font-size="8" text-anchor="middle" font-weight="bold" fill="#1a1a1a" stroke="#1a1a1a" stroke-width="0.3">15</text>
<line x1="415.17" y1="818.80" x2="415.17" y2="814.00" stroke="#5a5a5a" stroke-width="0.6" />
<text x="414.57" y="829.30" font-size="8" text-anchor="middle" font-weight="bold" fill="#1a1a1a" stroke="#1a1a1a" stroke-width="0.3">20</text>
<line x1="498.23" y1="818.80" x2="498.23" y2="814.00" stroke="#5a5a5a" stroke-width="0.6" />
<text x="497.63" y="829.30" font-size="8" text-anchor="middle" font-weight="bold" fill="#1a1a1a" stroke="#1a1a1a" stroke-width="0.3">25</text>
<line x1="581.30" y1="818.80" x2="581.30" y2="814.00" stroke="#5a5a5a" stroke-width="0.6" />
<text x="580.70" y="829.30" font-size="8" text-anchor="middle" font-weight="bold" fill="#1a1a1a" stroke="#1a1a1a" stroke-width="0.3">30</text>
<circle cx="113.88" cy="808.75" r="1.35" fill="#0a0a0a"/>
<circle cx="118.66" cy="793.68" r="1.35" fill="#0a0a0a"/>
<circle cx="129.70" cy="785.14" r="1.35" fill="#0a0a0a"/>
<circle cx="144.77" cy="794.94" r="1.35" fill="#0a0a0a"/>
<circle cx="155.57" cy="800.21" r="1.35" fill="#0a0a0a"/>
<circle cx="163.85" cy="792.43" r="1.35" fill="#0a0a0a"/>
<circle cx="175.40" cy="804.98" r="1.35" fill="#0a0a0a"/>
<circle cx="181.68" cy="806.74" r="1.35" fill="#0a0a0a"/>
<circle cx="186.95" cy="798.95" r="1.35" fill="#0a0a0a"/>
<circle cx="195.74" cy="774.85" r="1.35" fill="#0a0a0a"/>
<circle cx="215.58" cy="779.87" r="1.35" fill="#0a0a0a"/>
<circle cx="232.90" cy="779.87" r="1.35" fill="#0a0a0a"/>
<circle cx="250.23" cy="763.80" r="1.35" fill="#0a0a0a"/>
<circle cx="274.61" cy="802.47" r="1.35" fill="#0a0a0a"/>
<circle cx="281.89" cy="805.99" r="1.35" fill="#0a0a0a"/>
<circle cx="287.41" cy="803.47" r="1.35" fill="#0a0a0a"/>
<circle cx="294.19" cy="779.37" r="1.35" fill="#0a0a0a"/>
<circle cx="312.02" cy="801.21" r="1.35" fill="#0a0a0a"/>
<circle cx="319.80" cy="792.93" r="1.35" fill="#0a0a0a"/>
<circle cx="331.35" cy="804.23" r="1.35" fill="#0a0a0a"/>
<circle cx="337.88" cy="798.95" r="1.35" fill="#0a0a0a"/>
<circle cx="346.67" cy="796.95" r="1.35" fill="#0a0a0a"/>
<circle cx="383.58" cy="762.55" r="1.35" fill="#0a0a0a"/>
<circle cx="408.69" cy="772.84" r="1.35" fill="#0a0a0a"/>
<circle cx="429.30" cy="805.23" r="1.35" fill="#0a0a0a"/>
<circle cx="435.33" cy="795.19" r="1.35" fill="#0a0a0a"/>
<circle cx="445.87" cy="775.10" r="1.35" fill="#0a0a0a"/>
<circle cx="465.46" cy="774.10" r="1.35" fill="#0a0a0a"/>
<circle cx="485.29" cy="778.11" r="1.35" fill="#0a0a0a"/>
<circle cx="503.62" cy="776.36" r="1.35" fill="#0a0a0a"/>
<circle cx="522.46" cy="768.07" r="1.35" fill="#0a0a0a"/>
<circle cx="545.31" cy="794.94" r="1.35" fill="#0a0a0a"/>
<circle cx="555.85" cy="796.44" r="1.35" fill="#0a0a0a"/>
<circle cx="566.15" cy="802.72" r="1.35" fill="#0a0a0a"/>
<circle cx="573.18" cy="783.89" r="1.35" fill="#0a0a0a"/>
<text transform="translate(51.80,872.30) rotate(-90)" font-size="14" text-anchor="middle" font-weight="bold" fill="#000" stroke="#000" stroke-width="0.3" textLength="52" lengthAdjust="spacingAndGlyphs">DT (ms)</text>
<line x1="82.90" y1="841.60" x2="82.90" y2="901.20" stroke="#a6a6a6" stroke-width="0.9" />
<line x1="82.50" y1="900.80" x2="581.70" y2="900.80" stroke="#a6a6a6" stroke-width="0.9" />
<line x1="82.90" y1="841.80" x2="88.00" y2="841.80" stroke="#5a5a5a" stroke-width="0.6" />
<text x="80.20" y="844.55" font-size="8" text-anchor="end" font-weight="bold" fill="#1a1a1a" stroke="#1a1a1a" stroke-width="0.3">400</text>
<line x1="82.90" y1="871.30" x2="88.00" y2="871.30" stroke="#5a5a5a" stroke-width="0.6" />
<text x="80.20" y="874.05" font-size="8" text-anchor="end" font-weight="bold" fill="#1a1a1a" stroke="#1a1a1a" stroke-width="0.3">200</text>
<text x="80.20" y="903.95" font-size="8" text-anchor="end" font-weight="bold" fill="#1a1a1a" stroke="#1a1a1a" stroke-width="0.3">0</text>
<text x="82.00" y="911.30" font-size="8" text-anchor="middle" font-weight="bold" fill="#1a1a1a" stroke="#1a1a1a" stroke-width="0.3">0</text>
<line x1="165.97" y1="900.80" x2="165.97" y2="896.00" stroke="#5a5a5a" stroke-width="0.6" />
<text x="165.37" y="911.30" font-size="8" text-anchor="middle" font-weight="bold" fill="#1a1a1a" stroke="#1a1a1a" stroke-width="0.3">5</text>
<line x1="249.03" y1="900.80" x2="249.03" y2="896.00" stroke="#5a5a5a" stroke-width="0.6" />
<text x="248.43" y="911.30" font-size="8" text-anchor="middle" font-weight="bold" fill="#1a1a1a" stroke="#1a1a1a" stroke-width="0.3">10</text>
<line x1="332.10" y1="900.80" x2="332.10" y2="896.00" stroke="#5a5a5a" stroke-width="0.6" />
<text x="331.50" y="911.30" font-size="8" text-anchor="middle" font-weight="bold" fill="#1a1a1a" stroke="#1a1a1a" stroke-width="0.3">15</text>
<line x1="415.17" y1="900.80" x2="415.17" y2="896.00" stroke="#5a5a5a" stroke-width="0.6" />
<text x="414.57" y="911.30" font-size="8" text-anchor="middle" font-weight="bold" fill="#1a1a1a" stroke="#1a1a1a" stroke-width="0.3">20</text>
<line x1="498.23" y1="900.80" x2="498.23" y2="896.00" stroke="#5a5a5a" stroke-width="0.6" />
<text x="497.63" y="911.30" font-size="8" text-anchor="middle" font-weight="bold" fill="#1a1a1a" stroke="#1a1a1a" stroke-width="0.3">25</text>
<line x1="581.30" y1="900.80" x2="581.30" y2="896.00" stroke="#5a5a5a" stroke-width="0.6" />
<text x="580.70" y="911.30" font-size="8" text-anchor="middle" font-weight="bold" fill="#1a1a1a" stroke="#1a1a1a" stroke-width="0.3">30</text>
<circle cx="113.88" cy="892.50" r="1.35" fill="#0a0a0a"/>
<circle cx="118.66" cy="863.62" r="1.35" fill="#0a0a0a"/>
<circle cx="129.70" cy="875.18" r="1.35" fill="#0a0a0a"/>
<circle cx="144.77" cy="891.50" r="1.35" fill="#0a0a0a"/>
<circle cx="155.57" cy="884.72" r="1.35" fill="#0a0a0a"/>
<circle cx="163.85" cy="871.66" r="1.35" fill="#0a0a0a"/>
<circle cx="175.40" cy="872.66" r="1.35" fill="#0a0a0a"/>
<circle cx="181.68" cy="878.44" r="1.35" fill="#0a0a0a"/>
<circle cx="186.95" cy="894.76" r="1.35" fill="#0a0a0a"/>
<circle cx="195.74" cy="865.38" r="1.35" fill="#0a0a0a"/>
<circle cx="215.58" cy="861.62" r="1.35" fill="#0a0a0a"/>
<circle cx="232.90" cy="874.17" r="1.35" fill="#0a0a0a"/>
<circle cx="250.23" cy="866.14" r="1.35" fill="#0a0a0a"/>
<circle cx="274.61" cy="874.17" r="1.35" fill="#0a0a0a"/>
<circle cx="281.89" cy="892.00" r="1.35" fill="#0a0a0a"/>
<circle cx="287.41" cy="866.64" r="1.35" fill="#0a0a0a"/>
<circle cx="294.19" cy="887.98" r="1.35" fill="#0a0a0a"/>
<circle cx="312.02" cy="859.11" r="1.35" fill="#0a0a0a"/>
<circle cx="319.80" cy="895.26" r="1.35" fill="#0a0a0a"/>
<circle cx="331.35" cy="868.90" r="1.35" fill="#0a0a0a"/>
<circle cx="337.88" cy="893.51" r="1.35" fill="#0a0a0a"/>
<circle cx="346.67" cy="866.39" r="1.35" fill="#0a0a0a"/>
<circle cx="356.46" cy="894.51" r="1.35" fill="#0a0a0a"/>
<circle cx="383.58" cy="856.34" r="1.35" fill="#0a0a0a"/>
<circle cx="408.69" cy="848.06" r="1.35" fill="#0a0a0a"/>
<circle cx="429.30" cy="880.45" r="1.35" fill="#0a0a0a"/>
<circle cx="435.33" cy="894.26" r="1.35" fill="#0a0a0a"/>
<circle cx="445.87" cy="852.33" r="1.35" fill="#0a0a0a"/>
<circle cx="465.46" cy="880.70" r="1.35" fill="#0a0a0a"/>
<circle cx="485.29" cy="851.82" r="1.35" fill="#0a0a0a"/>
<circle cx="503.62" cy="854.08" r="1.35" fill="#0a0a0a"/>
<circle cx="522.46" cy="853.08" r="1.35" fill="#0a0a0a"/>
<circle cx="545.31" cy="874.67" r="1.35" fill="#0a0a0a"/>
<circle cx="555.85" cy="885.72" r="1.35" fill="#0a0a0a"/>
<circle cx="566.15" cy="873.67" r="1.35" fill="#0a0a0a"/>
<circle cx="573.18" cy="888.23" r="1.35" fill="#0a0a0a"/>
<text x="340.80" y="937.40" font-size="14" text-anchor="middle" font-weight="bold" fill="#000" textLength="53.5" lengthAdjust="spacingAndGlyphs">Time (s)</text>
</svg>
</body></html>
